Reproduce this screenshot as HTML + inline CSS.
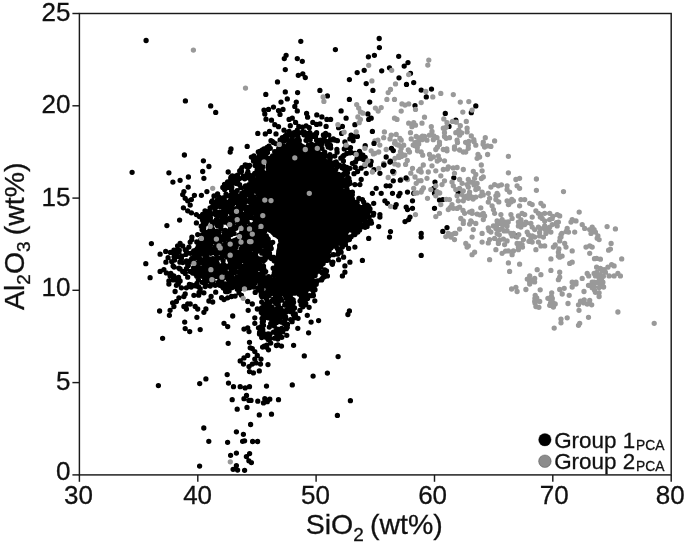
<!DOCTYPE html><html><head><meta charset="utf-8"><title>SiO2 vs Al2O3</title><style>html,body{margin:0;padding:0;background:#fff}</style></head><body><svg width="685" height="547" viewBox="0 0 685 547" style="display:block"><rect width="685" height="547" fill="#fff"/><polygon points="296,139 300,144 318,153 332,166 341,189 354,202 369.3,212.4 359.9,223.7 341.2,234.9 329.9,249.9 322.4,264.9 311,279 302,290 282,294 277,287 276.5,262 278,250 281,240 271,232 263,226 256,204 260,186 274,164" fill="#000" stroke="#000" stroke-width="3" stroke-linejoin="round"/><path d="M146.1 40.5h0M185.4 100.9h0M210.7 105.9h0M215.7 112.4h0M247.2 146.4h0M300.8 41.3h0M335.4 49.6h0M286.1 55.3h0M284.3 58.6h0M297.3 58.6h0M302.3 61.3h0M285.3 69.6h0M298.3 75.3h0M302.8 73.8h0M305.3 77.6h0M277.5 81.9h0M265.8 94.4h0M285.3 91.9h0M297.6 92.6h0M319.9 90.4h0M327.4 95.9h0M287.3 98.9h0M281 102.1h0M296.3 102.1h0M294.8 106.4h0M273.5 107.1h0M268.5 109.4h0M264 110.1h0M283 109.4h0M278.5 110.6h0M264.8 113.9h0M297.3 110.9h0M306.6 113.4h0M316.8 114.9h0M280 114.4h0M307.6 117.2h0M321.9 116.9h0M266 119.2h0M271.5 120.2h0M289.1 119.4h0M292.3 118.2h0M326.9 119.4h0M330.6 119.4h0M274.8 124.7h0M278.5 126.7h0M290.3 125.7h0M295.6 122.4h0M298.8 126.4h0M302.3 127.2h0M306.1 125.9h0M309.3 127.7h0M312.8 122.4h0M316.6 124.4h0M319.9 123.9h0M326.1 126.4h0M269.5 131.4h0M265.3 133.9h0M257.8 133.4h0M276 133.9h0M284 130.2h0M289.1 131.4h0M294.1 132.7h0M297.3 130.2h0M304.1 132.2h0M309.8 132.7h0M316.6 132.7h0M325.6 133.4h0M321.1 140.2h0M316.6 140.2h0M330.6 140.2h0M337.4 140.7h0M379.2 38.5h0M379.4 47.6h0M374.4 55.3h0M368.4 56.8h0M398.7 56.3h0M408 62.6h0M404.2 66.1h0M389.5 67.8h0M381.7 70.8h0M364.2 70.3h0M357.2 72.6h0M410.5 73.3h0M349.4 79.6h0M399 77.8h0M366.2 83.6h0M413.7 82.6h0M406.5 84.4h0M372.9 90.4h0M421.2 90.1h0M349.4 99.4h0M369.7 102.1h0M415 105.6h0M341.1 110.9h0M367.9 113.9h0M346.1 118.2h0M368.7 119.4h0M371.2 118.2h0M354.9 124.7h0M342.4 126.4h0M338.6 127.7h0M372.4 131.4h0M341.6 133.4h0M351.1 135.2h0M354.2 136.4h0M357.4 136.4h0M349.9 138.9h0M353.1 140.7h0M344.9 141.9h0M431.5 89.1h0M426.3 96.9h0M475.8 105.9h0M471.3 112.7h0M445.3 113.4h0M455.8 120.2h0M449 126.4h0M132.1 172.3h0M184.4 155h0M203.4 160.8h0M208.9 166.5h0M231 149h0M230.2 152h0M168.9 172.8h0M202.7 171.5h0M203.9 178.3h0M188.4 177h0M180.1 180.3h0M172.9 182.1h0M228.2 172h0M245.2 165h0M188.2 187.1h0M183.9 191.6h0M182.7 194.6h0M185.2 198.3h0M187.7 200.8h0M191.4 199.6h0M194.4 195.3h0M201.4 195.3h0M206.9 191.6h0M190.2 205.1h0M183.4 207.8h0M187.7 210.8h0M191.4 212.8h0M196.4 214.6h0M199.4 216.6h0M179.6 220.1h0M166.9 225.6h0M196.4 222.9h0M203.9 220.9h0M151.4 243.6h0M160.1 254.2h0M145.8 263.7h0M165.9 262.2h0M150.1 277.7h0M160.1 271.4h0M163.9 269.7h0M166.4 272.9h0M170.1 275.9h0M173.1 265.9h0M173.9 250.2h0M177.6 245.9h0M180.1 243.4h0M182.7 245.9h0M178.9 252.2h0M181.4 258.4h0M190.2 242.1h0M191.9 237.1h0M197.7 234.6h0M188.9 247.1h0M185.2 249.7h0M180.1 268.9h0M182.7 271.4h0M185.2 273.4h0M187.7 277.2h0M175.1 279.7h0M168.9 280.9h0M180.1 280.9h0M190.2 271.4h0M187.7 264.7h0M186.4 260.9h0M386.2 157h0M390 162h0M383.7 164.5h0M364.9 165.8h0M366.2 173.3h0M379.9 173.3h0M393.7 172h0M361.2 179.5h0M359.9 184.6h0M354.9 184.6h0M352.4 192.1h0M376.2 188.3h0M372.4 193.3h0M381.2 193.3h0M386.2 185.8h0M390 185.8h0M392.5 193.3h0M398.7 195.8h0M400 193.3h0M407.5 192.1h0M413.7 193.3h0M412.5 200.8h0M406.2 207.1h0M407.5 209.6h0M412.5 208.3h0M395 207.1h0M396.2 204.6h0M384.9 200.8h0M387.4 203.3h0M373.7 203.3h0M362.4 199.6h0M363.7 202.1h0M379.9 214.6h0M379.9 217.1h0M373.7 213.3h0M368.7 210.8h0M410 217.1h0M408.7 219.6h0M405 221.6h0M378.7 226.6h0M368.7 222.1h0M367.4 224.6h0M361.2 227.1h0M390.5 231.6h0M389.5 237.1h0M368.7 238.4h0M421.2 233.4h0M421.2 237.1h0M421.2 255.4h0M354.9 234.6h0M354.9 247.1h0M348.6 248.4h0M346.1 240.9h0M362.4 260.4h0M349.9 262.2h0M343.6 257.2h0M338.6 259.7h0M344.9 265.9h0M344.9 272.2h0M342.4 275.9h0M327.4 275.9h0M322.4 278.4h0M333.6 254.7h0M337.4 248.4h0M341.1 252.2h0M358.7 158.3h0M352.4 163.3h0M349.9 168.3h0M346.1 172h0M348.6 179.5h0M341.1 177h0M343.6 165.8h0M435 182.1h0M433.8 188.3h0M434.5 193.3h0M439.5 200.1h0M442.8 199.6h0M434.5 208.3h0M447 227.6h0M442.8 231.4h0M453.8 177.8h0M458.3 192.8h0M515.9 235.9h0M168.9 284h0M176.4 285.3h0M181.4 287.8h0M186.4 287.8h0M195.2 285.3h0M200.2 289h0M205.2 286.5h0M210.2 286h0M215.2 285.3h0M221.5 284h0M230.2 287.8h0M234 286.5h0M239 285.3h0M244 285.3h0M175.1 291.5h0M185.2 294h0M183.9 296.5h0M178.9 297.8h0M176.4 301.5h0M172.6 302.8h0M173.9 306.5h0M170.1 310.3h0M169.4 315.3h0M159.6 311h0M193.9 295.3h0M198.9 294h0M203.9 292.8h0M227.7 291.5h0M231.5 296.5h0M227.7 297.8h0M224 299.5h0M239 292.8h0M241.5 295.3h0M247.7 301.5h0M208.9 301h0M212.7 302h0M187.7 304h0M190.2 304h0M183.9 306.5h0M186.4 309h0M195.2 306.5h0M197.7 309h0M205.9 309h0M203.9 312.3h0M196.9 317.3h0M232.7 316h0M248.2 310.3h0M184.7 322.1h0M185.2 328.6h0M189.7 331.6h0M200.2 329.6h0M224 323.3h0M227.7 326.6h0M244 329.1h0M247.7 327.8h0M249 331.6h0M162.6 338.3h0M228.2 343.3h0M249.5 342.3h0M250.2 347.8h0M247.7 355.4h0M244 357.9h0M240.2 360.9h0M243.5 364.1h0M249 366.6h0M249.5 371.6h0M227.2 374.6h0M205.9 378.9h0M199.7 383.6h0M158.4 385.6h0M228.5 383.1h0M233.5 386.7h0M240.2 386.7h0M245.2 387.9h0M249.5 386.7h0M246.5 395.4h0M244 398.7h0M249 400.4h0M232.2 399.7h0M237.2 409.2h0M247 407.4h0M349.4 311h0M347.9 314.5h0M314.8 300.8h0M313.6 285.3h0M309.1 307.3h0M307.3 315.3h0M318.6 320.6h0M311.1 322.1h0M298.1 318.3h0M297.8 328.3h0M308.6 332.8h0M286.8 335.3h0M293.6 345.3h0M281.5 346.1h0M304.3 355.9h0M338.1 356.6h0M327.4 373.1h0M313.1 376.1h0M292.3 384.9h0M266.5 386.1h0M350.4 400.7h0M337.4 415.4h0M271.5 414.2h0M259.3 414.9h0M278.5 399.7h0M269.8 399.2h0M264.8 398.7h0M263.5 402.9h0M267.3 401.7h0M257.8 401.2h0M251 400.4h0M268 364.6h0M259.3 370.9h0M261 359.1h0M257.3 355.4h0M254.8 351.6h0M252.3 348.6h0M254.8 359.1h0M252.3 364.1h0M253.5 372.9h0M256 362.9h0M260.5 364.1h0M268.5 349.8h0M252.3 304h0M254.8 317.8h0M254.8 323.3h0M258.5 327.8h0M257.3 309h0M203.8 428h0M208.8 441.3h0M199.6 466.1h0M227.6 442.3h0M236.4 431.8h0M243.4 434.3h0M250.6 424.5h0M242.6 441.3h0M244.6 440.8h0M252.6 441.5h0M257.6 441.5h0M236.4 453.1h0M230.6 455.3h0M249.6 453.6h0M246.4 456.6h0M248.9 460.8h0M251.4 462.6h0M233.1 469.3h0M236.4 465.6h0M237.6 470.1h0M244.6 470.3h0M365.2 145.7h0M359.9 152.7h0M362.9 155.1h0M361.7 158.6h0M365.2 157.4h0M358.2 156.3h0M371.1 161.5h0M370.5 165h0M374 169.7h0M355.3 167.4h0M357.6 171.5h0M297.7 169h0M320.1 164.1h0M270.1 206.1h0M319.7 166h0M318.7 194h0M313.1 162h0M294.7 142.6h0M294.5 289h0M303 276.3h0M321.5 253.2h0M282.4 220.2h0M346.9 225h0M277.1 230.2h0M273 174.5h0M317.1 163.3h0M292.7 146.6h0M297.7 244.2h0M342.3 213.5h0M292.9 233.6h0M303.7 286.6h0M278.8 258.2h0M335.1 225.3h0M274.5 183.7h0M316.9 219.5h0M312.2 167.7h0M266.9 217.3h0M302 261.5h0M283.6 275.2h0M259.1 190.2h0M300.7 166.6h0M333 219.3h0M284.2 203.1h0M334.4 189.4h0M263.7 210.4h0M278.1 235.3h0M278.9 159.9h0M289.1 222.4h0M334.6 243h0M304.4 195.4h0M314.5 228h0M298.1 248.8h0M333.7 201.3h0M306.9 180h0M339.5 213.5h0M295.1 281.8h0M332.6 236h0M324.3 168.1h0M301 167.2h0M295.6 278.7h0M264.6 185.6h0M268.9 218.7h0M292.2 145.3h0M279.4 227.3h0M296.7 290.5h0M288.2 271.7h0M266.4 220.8h0M318.3 240.9h0M302.5 220.2h0M316.2 230.2h0M296.1 265.5h0M291.5 263.1h0M270.2 226.6h0M291 172.6h0M266.9 216.4h0M281.2 254.5h0M274.4 230.2h0M283.4 293h0M358 224.8h0M278.1 260.6h0M343 225.9h0M269.9 180.1h0M282.7 291h0M281.5 196.4h0M334.1 241.8h0M319.7 239.9h0M297.7 201h0M333.6 204.3h0M268.6 177.6h0M290.4 226.8h0M320.6 237.6h0M314.5 250.7h0M278.8 236h0M259.2 200.6h0M280.4 226h0M284.4 153.3h0M319.8 261.3h0M290.7 183.3h0M279.8 200h0M333.3 201.2h0M347.8 227.5h0M316.9 241h0M303.8 248h0M286.2 187.8h0M302.8 199.8h0M266.5 199.4h0M282 235.2h0M299.9 187.4h0M327.1 188h0M324 210h0M295.3 199.8h0M298.4 245.9h0M313.6 215.2h0M322.6 240.1h0M269.7 206.9h0M328.7 175.5h0M332.2 216.6h0M272 169.5h0M286.4 271.2h0M298.8 228.8h0M332.2 219.1h0M311.7 155.2h0M296.1 283.6h0M294.8 171.8h0M278.2 190.4h0M309.5 224.6h0M319.2 159.5h0M333.5 225.1h0M285 247.9h0M314.6 196.1h0M301.4 170.4h0M328.5 165.3h0M331 229.9h0M346.3 202.9h0M306.9 157.8h0M285.2 159.5h0M315 263.9h0M304.4 182.2h0M331.2 225.5h0M345.6 230.3h0M285.8 196.9h0M291.1 184.2h0M325.5 208.9h0M311 155.3h0M309.8 230.1h0M295.7 217.6h0M324.9 173.8h0M306.3 149.8h0M299.5 163.2h0M293.2 211.8h0M330.7 237.2h0M315.3 271.2h0M302.5 161.3h0M333.6 194.4h0M364.7 213.1h0M301.6 189.1h0M319.2 239.6h0M283.2 180.6h0M299.2 278.4h0M277.3 202.2h0M303.7 190.3h0M300.2 181.3h0M302.2 167.6h0M308.3 223.5h0M314.7 206.3h0M302.7 268.3h0M302.8 223.8h0M285.9 189.1h0M311.4 252.4h0M286.5 188.6h0M334.3 221.4h0M334.4 191.5h0M338.9 228h0M304.4 245.3h0M283.5 193.7h0M292.2 265.9h0M258.8 193.7h0M333.3 206.9h0M331.5 242.2h0M272.2 229.7h0M327.1 169.3h0M278.7 273.9h0M292 191.9h0M322 174.9h0M308.9 160.1h0M325.6 188.9h0M293.2 206.4h0M330 193.1h0M299.7 205.1h0M306.4 157.1h0M328.7 225.2h0M294.6 260h0M313.4 226.8h0M286.1 214.5h0M297.4 248.9h0M323.3 258.1h0M314.7 226.2h0M266.4 188.7h0M323.1 263.5h0M292.8 267.9h0M322.6 225h0M271.5 204.2h0M358.5 211.7h0M296.6 173.9h0M304.7 281.6h0M302.9 288h0M317.4 238.3h0M291.5 178.9h0M268.3 178.6h0M290.9 281.3h0M320.2 204.2h0M313.5 246.7h0M330.1 232.2h0M330.1 201h0M293.2 209.6h0M290.8 169.7h0M298.5 268.2h0M286.3 284h0M256.7 204.4h0M264 226.6h0M266.7 200.4h0M288 154.9h0M298.5 206.5h0M321.5 192.5h0M263.8 190h0M316.5 153.2h0M318 261.9h0M337.3 233h0M283 180.9h0M333.9 200h0M299.7 216.8h0M284 239h0M299.4 279.6h0M308.6 179.7h0M309.3 266.2h0M279.5 158.1h0M306.3 187.2h0M283.7 272.6h0M287.4 181.2h0M328.8 179.5h0M265.9 179.1h0M316.4 188.8h0M288.7 190.9h0M323 165.2h0M341.5 194.8h0M284.2 229.6h0M306.2 237.4h0M296.7 248.9h0M310.9 163.8h0M290.4 168.8h0M289.7 185.9h0M270.3 207.2h0M339.9 218.8h0M294.9 275.2h0M323.8 189.1h0M335.5 184.8h0M271 186.6h0M308.4 270.3h0M309.7 159h0M301.9 199h0M256.9 203h0M305.6 203.4h0M291.4 204.8h0M314 180.3h0M325.1 223.4h0M327.7 241.6h0M345.1 216.5h0M285.9 171.6h0M288.4 226.3h0M318.5 161.4h0M314 225h0M317.3 166.1h0M287.1 201.3h0M284.7 179.5h0M291 216.4h0M306 243.1h0M316.2 252.5h0M278 278.9h0M323.1 233.8h0M322.4 207.6h0M310.5 151.7h0M323.4 168.5h0M333.6 201.8h0M330.5 179.6h0M345.6 203.7h0M291.6 266.1h0M314 226.3h0M280.9 195.5h0M272.8 200h0M311.8 194.1h0M295.2 286.6h0M297.1 151.7h0M295.8 161.8h0M319.5 203.1h0M271.6 196.7h0M345.3 223.2h0M268.2 206h0M328.8 202.8h0M287.3 265.2h0M324.8 252.9h0M339.3 226.3h0M299.6 268.8h0M290.4 171.8h0M306.9 223.5h0M303.2 224h0M298 230h0M272.9 170.3h0M282.2 258.3h0M281.3 226h0M282.9 276.6h0M289.6 194.5h0M277.7 172.6h0M343.2 207.5h0M291 195.5h0M292.2 180.4h0M286.5 260.5h0M267.9 190.6h0M347.4 197.1h0M275.3 182.7h0M304.7 217.3h0M278.7 220h0M284.7 284.6h0M319.9 252.2h0M265.6 195.1h0M291.8 198.6h0M307.6 223.4h0M276.9 182.6h0M297.7 269.1h0M280.9 206.1h0M300.6 218.8h0M293.4 290.8h0M321.7 209.1h0M289.4 250.1h0M312.8 191.5h0M333.8 224.8h0M300.3 248.2h0M286.2 209h0M311.1 194.9h0M319.5 261.1h0M354.8 203h0M288.1 258h0M335.7 181.5h0M306.2 177.3h0M315.3 171.3h0M264 180h0M265.9 185.4h0M293.2 187.2h0M285.6 279.3h0M309.2 152h0M287.1 287.9h0M306.1 190.7h0M282 177.4h0M343.4 230.6h0M353.5 213.3h0M264.5 193.7h0M288.7 209.9h0M317.8 200.6h0M308.4 213.6h0M268.7 175.3h0M355.6 207.7h0M348.2 205h0M321.1 170.3h0M310.1 265.9h0M291.7 224.5h0M286.7 249.8h0M291.8 219.4h0M283.2 158.6h0M268.7 195.8h0M263.1 223h0M291.9 145.1h0M308.8 265.6h0M277.4 211h0M287 259.4h0M302.6 190.4h0M277.8 190.1h0M351.1 228h0M351.6 227.5h0M332.7 225h0M280 215h0M295 174.5h0M291.8 281.6h0M317.7 181.7h0M297.4 185h0M345.2 219.6h0M311 253h0M318.3 266.3h0M306.6 269.8h0M285.2 290.1h0M333.5 183.8h0M305.1 286h0M282.9 223.2h0M305.8 165.4h0M334.8 186.1h0M307.3 188.4h0M330.4 187.6h0M301.1 265.8h0M339.9 187.6h0M304.1 273.5h0M285 234.2h0M288.2 214.4h0M316.4 199.9h0M270 183h0M309.1 201.2h0M322.1 241.5h0M292.9 277.5h0M333.7 186.7h0M298.2 190h0M320.4 193.8h0M264.6 183.3h0M286 251.7h0M301.3 204.7h0M330.4 241.2h0M281.8 256.8h0M290.4 226.4h0M325.3 211.2h0M301.4 199.4h0M334.1 188.7h0M307.3 221.1h0M267.8 207.1h0M290.4 287.6h0M305.5 201h0M287.4 283.5h0M263.3 214.9h0M278.4 225h0M301.5 275.6h0M264.2 211.1h0M288.7 155.9h0M295.9 221.5h0M306.7 148.3h0M293.4 144.3h0M352.1 228h0M305.7 260.1h0M314.9 245.4h0M351.9 212.7h0M327.3 183.8h0M338.7 228.7h0M277.8 261.9h0M307.1 159.3h0M365 215.8h0M275 170.2h0M284.8 282.7h0M335.4 189.9h0M305.6 254.2h0M289.2 184.3h0M320.7 250.3h0M275.9 211.1h0M316 252.2h0M314.8 175.7h0M367.7 213.9h0M297.4 286.4h0M313.1 185.4h0M282.5 199.6h0M269.4 182.5h0M327.8 243.5h0M328.4 166h0M308.7 178.2h0M292.6 190.5h0M300.8 260.2h0M360.8 209.5h0M312.1 209.2h0M313.2 200.4h0M313.1 210.9h0M327.1 247.1h0M347.6 206.2h0M320.8 176.3h0M319.1 239.9h0M319.8 169.3h0M303.6 228.6h0M296.1 242.7h0M299.5 211.9h0M278.9 221.5h0M280.5 173.2h0M304.6 237.7h0M314.3 174.3h0M320.6 247.9h0M280.1 157.7h0M319.6 214.7h0M314 187.7h0M312.4 270.8h0M274.9 185.5h0M343.2 204.4h0M313.3 205.3h0M311.9 266.6h0M309.6 279.6h0M306.3 186h0M310.2 241.5h0M282.6 254.5h0M298.3 148.3h0M278.4 278.6h0M322.5 246.3h0M316.4 202.8h0M267.1 209.6h0M321.9 177.2h0M333.8 208.9h0M292.2 153.4h0M309.1 202h0M289.1 178h0M311.2 275.6h0M323.4 236.7h0M337.8 235.9h0M321.8 183.6h0M283 219h0M313.5 190.9h0M324.8 247.7h0M265.5 177.4h0M274.9 222.4h0M297.2 162.9h0M302 221.2h0M287 292.2h0M297.7 239.4h0M300.8 208.6h0M295.3 188.2h0M290.1 174.2h0M304.8 190.6h0M302.6 220.5h0M305.9 166.2h0M270.2 184.4h0M288.1 199h0M287 237.7h0M339.4 211.1h0M263.1 182.5h0M293.5 276h0M263.8 202.7h0M317.6 208.6h0M333.4 183.3h0M309.4 273.4h0M281.4 222.4h0M291.1 211.9h0M262.8 185.7h0M330.6 225.4h0M335.2 202.1h0M295.8 145.5h0M294.4 164h0M270.3 211.6h0M297.2 265.9h0M308.9 239.3h0M322.5 207.4h0M271.2 223.1h0M315.7 192.6h0M313.7 197.7h0M313.7 253.3h0M290.2 266.9h0M330.9 247.9h0M272.5 209.5h0M283.1 178.4h0M329.4 202.6h0M304 239.7h0M279.2 215.8h0M260.8 204.8h0M300.6 237.5h0M287.9 181.9h0M323.5 160.2h0M332.1 240.8h0M301.3 225h0M316.8 269.5h0M312.5 154.6h0M280.3 159.9h0M314 170.2h0M354.7 221.5h0M306.8 242.3h0M302 226.4h0M263.1 224.1h0M319.5 172.7h0M276.4 206.8h0M336.3 189.9h0M293.3 282.5h0M286.2 231.7h0M337.8 182.7h0M315.8 228.5h0M260.9 188.3h0M257 204.4h0M335.9 199.3h0M319.8 164.3h0M279.3 190.5h0M284.9 249.5h0M312.7 258.1h0M297.5 202h0M325.9 186.7h0M306.7 277h0M263.7 188h0M323.5 229.1h0M292.1 198.5h0M284.2 170.4h0M313.1 239.1h0M335.8 211h0M275.5 223.3h0M302.1 241.9h0M295.8 239.7h0M303.3 164.4h0M265.1 205.7h0M294.7 263.4h0M262.1 192.7h0M324.3 227.4h0M326.2 228.4h0M313.3 150.7h0M342.6 224h0M317 180.6h0M303.6 282.8h0M282 159.5h0M301.7 181h0M285.8 269h0M275.3 228.4h0M274.2 199.9h0M259.5 213.4h0M329.2 237.2h0M311.1 167.3h0M320.2 212.5h0M299.5 252.5h0M320.3 193.7h0M329 175.3h0M280.1 176.1h0M309.9 166.8h0M294.7 178.7h0M271.4 171h0M286.9 187.7h0M319.3 264.4h0M283.3 237h0M285.9 277.7h0M312.7 195.8h0M360.5 218.6h0M299.4 168h0M268.4 187.5h0M310.6 193.8h0M288.6 160.3h0M288.6 187h0M313 168.5h0M315.4 216.2h0M271.9 228.7h0M317.4 177.3h0M278 259.6h0M279.9 182.3h0M334.9 198.4h0M300.7 280.8h0M319.3 197.6h0M322.8 202.4h0M287.6 259.9h0M314.5 161.1h0M337.6 229.3h0M300 181.1h0M304.6 204.8h0M288.2 166.4h0M309.3 190.9h0M286.4 288.9h0M356.2 217.4h0M357.9 211.6h0M333.8 180.1h0M298.1 234.2h0M343.2 215.7h0M316.6 202.4h0M333.7 202.2h0M347.8 224.7h0M323.2 234.3h0M312.9 221.6h0M291.4 174.4h0M306.1 164h0M330.2 166.3h0M289.9 170.1h0M332.8 217.1h0M276.3 179.5h0M319.1 177.9h0M314.1 211.1h0M324.6 212.4h0M346.4 224.3h0M309.6 192.1h0M315.6 246.7h0M285 252.9h0M286.5 277.4h0M359.5 214.3h0M312.5 270.1h0M315.4 235.4h0M301.2 281.3h0M335.2 214.8h0M309 271.4h0M300.8 256.1h0M314.2 213.7h0M292 165.2h0M296.4 201h0M304.8 286.4h0M316.1 153.6h0M297.6 193.7h0M318.6 248h0M287.4 237.9h0M279.4 280.7h0M305.2 181.9h0M304.4 263.3h0M317 267.3h0M323.1 158.8h0M287 228h0M327.2 232.7h0M294.2 224.1h0M275.1 227.6h0M353.7 212.7h0M280.3 173.5h0M348.8 203.2h0M292.2 151.4h0M319.1 221.4h0M303.5 162.6h0M322.2 199.1h0M334.8 186.1h0M296.8 239.8h0M273 175.7h0M319.2 242h0M269.8 202.6h0M307.3 201.9h0M335.1 177.2h0M316.7 267.3h0M292 173.3h0M276.9 211h0M324.9 178.4h0M309.4 195.8h0M300.9 154.5h0M292.6 168.5h0M287.8 205.9h0M325.5 180.2h0M344.3 198.9h0M289.4 206.6h0M305.5 234.9h0M306.7 199.3h0M357.7 217.9h0M273.2 199.1h0M300.9 183.3h0M334.1 216.3h0M310.9 171.9h0M295 275.9h0M303.4 200.1h0M281 258.6h0M274.3 172.2h0M287.2 205.1h0M322 255.1h0M310.6 243.6h0M310.4 171.5h0M314.9 270.6h0M291.6 281.7h0M288.2 175.8h0M285.5 241.7h0M262 202.9h0M304.9 225.3h0M291.8 263h0M306.7 274.7h0M278.3 168h0M299.4 202h0M301.4 193.1h0M299.1 220.3h0M310.7 227.1h0M319.6 168.7h0M320.6 229.2h0M332.6 208.8h0M271.6 193.4h0M287.2 168h0M286.9 186.1h0M312.2 202.1h0M303.5 152.1h0M322.1 197.7h0M323.7 222.6h0M298.9 251.9h0M285 195.5h0M278.7 190.8h0M314.9 163.7h0M339.8 235.2h0M297.3 190.2h0M277.2 169h0M320.8 223.3h0M338.7 228.8h0M282.7 207.4h0M323 228.6h0M357.9 211.6h0M354.6 207.3h0M306.4 215.6h0M282 270.4h0M361 211.4h0M299.5 259.2h0M279.5 200.3h0M275.6 186.7h0M292.9 153.8h0M278.2 215.3h0M290.7 283.1h0M273.2 195.5h0M311.9 214.5h0M314 272.5h0M329.1 251.3h0M315.9 156.6h0M285 272.4h0M281.5 260.5h0M313.7 274.5h0M297 162.2h0M288.6 168.8h0M317.8 224.6h0M319.9 247.1h0M306.5 216.8h0M308.7 164.3h0M306 165.8h0M304.7 227.6h0M301.7 229.8h0M305.7 230.5h0M296.8 200.1h0M272 182.4h0M277.5 266.7h0M263.3 212.9h0M330 173.3h0M329.3 232.3h0M317.8 195.3h0M282.1 292.1h0M315.3 248.6h0M312 277.1h0M274.7 214.2h0M272.3 214.8h0M328.8 175.4h0M293.2 268.2h0M274.5 187.4h0M292.4 232.2h0M305.2 272.4h0M352.6 220.5h0M287.2 188.2h0M287.7 260.9h0M285.2 175.9h0M262.2 199.9h0M347.7 203.6h0M291.5 220h0M282.1 166.7h0M331.8 226.8h0M295.1 264h0M295 207.8h0M330.4 232.3h0M273.7 186.4h0M300.8 164.7h0M313.9 202.3h0M302.3 247.6h0M335.6 201h0M267.7 189.2h0M290.1 166.8h0M307.4 180.5h0M322.4 248.6h0M294 253.4h0M279.3 263.6h0M325.5 238.8h0M291.8 160.3h0M287.1 202.2h0M258.4 209.1h0M334.8 173.3h0M270.5 216.9h0M280.2 227.4h0M304.5 180h0M281.1 246.6h0M260.7 198.5h0M323.5 178.6h0M341.5 226.9h0M280 273.2h0M329.1 177.6h0M295.6 242.6h0M328.5 206h0M336 236.5h0M294.1 217.5h0M304.3 161.3h0M287.9 254.2h0M284.9 267.6h0M294 164.1h0M290.4 283.8h0M318.6 214.5h0M319.7 156h0M320.1 249.4h0M361.1 215.4h0M285.9 233.8h0M300.7 146.9h0M308.7 194.9h0M294 209h0M323.7 161.4h0M293.2 243.4h0M294.8 214.2h0M343.4 230.6h0M281.4 246.8h0M318.1 213.2h0M319 164.4h0M274.9 234.6h0M316.3 170.5h0M310.2 249.2h0M260.7 189.1h0M304.3 177.6h0M299.1 210h0M280.3 276.9h0M326.1 168.2h0M263.6 184.2h0M342.3 218.7h0M296.7 162.8h0M325.4 180.3h0M308.1 176.7h0M311.2 210.7h0M331.5 170h0M322.7 177.3h0M301.3 173.8h0M349.3 218.8h0M259.5 202.7h0M299.1 268.3h0M350 213.9h0M323.1 250h0M302.2 258.4h0M301 174.2h0M306.7 199.7h0M297.3 259.9h0M309.9 236.8h0M279.4 186.7h0M308.9 232.4h0M304.3 259.8h0M297.3 175.7h0M290.3 212.6h0M280.7 288.3h0M314.5 273.9h0M332.4 233.5h0M351.7 204.2h0M304 263.1h0M305.2 169.5h0M316.6 157.4h0M265.3 194.1h0M283.9 239.9h0M314.1 225.4h0M320.8 252h0M282.4 254.1h0M291.8 227.2h0M262.6 220h0M294.2 141.6h0M295 191.8h0M326.4 214.2h0M333.9 194.3h0M336.8 238.3h0M311.6 150.3h0M292.1 216.9h0M301.6 255.5h0M298.1 190.6h0M340.4 216.7h0M351.2 206.8h0M273 199.4h0M318.2 249.8h0M298.7 289.6h0M272.5 200.2h0M278.9 164.4h0M283.2 286.7h0M293.6 285.7h0M299 145.5h0M322 224.3h0M294.9 200h0M318.5 162.6h0M298.7 169.8h0M297.4 254.9h0M295.3 263.3h0M315 266.3h0M287.4 156.2h0M290.9 225.5h0M294.5 203.4h0M324.2 166.6h0M318.7 205.5h0M300.8 201.3h0M328.1 215.9h0M312.7 238.1h0M321.6 242.9h0M284.3 256.5h0M306.5 178.3h0M291.1 250.1h0M315.9 248h0M313 267.1h0M322.9 228.1h0M316.1 265.6h0M296.6 204.3h0M288.1 189.2h0M309.7 267.3h0M263.1 199.4h0M339.3 207.1h0M305.4 223.7h0M293.9 270.3h0M305 254.2h0M304.2 198.1h0M290.9 170.4h0M327.5 163.5h0M291.9 216.8h0M336.9 197.6h0M265.1 188.2h0M293.1 199h0M285.9 175.7h0M280.3 166.7h0M337.5 226.5h0M275.2 204.8h0M300.4 214.2h0M348.8 216.4h0M311.7 212.9h0M308.1 228.2h0M301.9 267.6h0M314.5 223.6h0M306 263.2h0M314.9 192.1h0M319 258.2h0M335.5 189.7h0M305.4 204.2h0M308.3 192h0M303.5 175h0M320.2 193.7h0M328.8 171.5h0M321.4 228.7h0M355.5 220.9h0M312.1 208.4h0M263.7 204.9h0M311.2 212.6h0M316.1 187.2h0M294.1 206.6h0M274.9 184.8h0M324.1 246.3h0M324.4 179.9h0M332.9 213.4h0M308.5 281.2h0M286.6 271.4h0M295.9 187.2h0M334.3 226.7h0M311.1 156.2h0M333.8 185.1h0M326.2 195.3h0M310.2 277.7h0M282.7 258.7h0M320.5 260h0M335.2 220.6h0M284.7 227.2h0M282 193.3h0M323.4 170.5h0M309 167.9h0M340.1 211.4h0M283.1 240.6h0M316.5 199.5h0M272.2 179h0M283.9 243.4h0M327.5 182.5h0M315.2 265.8h0M262.1 204.9h0M296.2 257.5h0M300 277.4h0M341.7 222.2h0M294.3 254.4h0M304.5 204.5h0M291.1 197h0M292.2 181.1h0M361.9 211.3h0M342.4 205.6h0M330.2 166.4h0M317.3 267.2h0M338.6 219.2h0M317.8 177.7h0M284.2 237.2h0M281.3 238.9h0M333.9 243.2h0M304 265.5h0M288.2 268.9h0M316.2 173.8h0M291.7 229.5h0M305.5 216.3h0M269.6 229.7h0M296.9 222.5h0M332.7 185.8h0M293.3 188h0M304.6 150.9h0M303.2 233.1h0M318.4 224.2h0M289 274.4h0M259.3 210.5h0M301.4 278.6h0M318.4 172.8h0M278.1 268.2h0M281.4 192.7h0M340.6 227.8h0M299.8 169.1h0M260.3 204.8h0M267.1 200.3h0M301.7 218h0M340.7 233.3h0M316.3 272.3h0M307.3 157h0M289 269h0M298.1 260.1h0M301.7 169.7h0M300.6 192.4h0M287.2 177.1h0M260.1 199.2h0M301 276.3h0M336.9 222.7h0M311.2 235h0M293.2 218.6h0M283 165.3h0M324.3 237.4h0M321 178.1h0M303.4 247.4h0M307.1 150.3h0M330.9 169h0M315.9 256.4h0M320.7 160.5h0M309.4 152.2h0M292.6 284.5h0M280.2 248h0M290.1 172.1h0M280.4 228.5h0M341.1 190.8h0M310.1 235.5h0M317.7 256.5h0M297.4 168.4h0M329.9 232h0M263.2 223.6h0M270.2 184.5h0M302.3 257.3h0M338.6 220.3h0M343.7 201.2h0M293.3 208.9h0M310.4 198.3h0M304 185.3h0M284.4 274.5h0M265.5 214.5h0M281.6 166.5h0M278.4 168.3h0M299.9 272.4h0M290.4 191.5h0M284.8 193.3h0M343.4 216h0M257.4 205.7h0M306.4 246.1h0M283.9 186.2h0M277.5 259.1h0M318.3 243.1h0M300.5 248.6h0M332.7 242.3h0M281.6 163.3h0M313.5 169.7h0M334.6 177.1h0M330.8 203h0M329.2 212.7h0M276 204.7h0M310.8 272.2h0M286.6 229.7h0M283.3 276.2h0M322.5 178.6h0M298.7 207.9h0M298.5 151h0M314.2 198.3h0M281.7 275.2h0M347.9 196.5h0M283.9 283h0M302.8 235h0M300.3 274.2h0M323.3 161.1h0M317.6 251.3h0M285.6 259.1h0M322 212.4h0M321.7 211h0M318.4 209.1h0M283.1 192.1h0M317.7 172.4h0M279.4 178.9h0M310.6 232.8h0M300.9 230.5h0M270.3 179.7h0M272.6 197.7h0M300.7 222.9h0M304.3 245.2h0M270.9 187.6h0M263.2 208.1h0M277.5 233h0M363.4 211.2h0M320.6 237.3h0M271.1 189.4h0M323 217.2h0M331.7 190.5h0M321.4 211h0M338.6 231.5h0M288.3 219.1h0M285.1 241.5h0M297.8 145.7h0M311.7 158h0M309.3 167.3h0M325 209.5h0M320 217.5h0M297.4 223.2h0M289.7 288.2h0M313.1 233.9h0M257.7 206.7h0M289.8 174.7h0M292.8 179.8h0M261 203h0M266.4 206.2h0M319.4 251.1h0M335.1 207.7h0M341.3 215.9h0M313 152.6h0M298.4 171.9h0M285 217.9h0M272.7 219.1h0M321.5 196.1h0M290.3 255h0M332.3 241.1h0M330.8 237.4h0M305.2 279.7h0M304.1 220h0M312.9 205h0M326 225.1h0M329.4 235.7h0M330.4 227.4h0M300.5 201.9h0M273.4 169.4h0M319.5 202.6h0M290.8 191.3h0M284.7 183.4h0M270.2 201.8h0M266.3 185.1h0M317.7 269.5h0M274.4 175.9h0M272.7 188.2h0M311.1 225.6h0M295.8 246.1h0M298.5 188.2h0M318.4 169.9h0M295.1 291.3h0M326.8 183.6h0M313.3 246.6h0M273.5 165.3h0M281.3 250.2h0M294.9 216.2h0M335.2 239.4h0M277.3 264.5h0M316.8 256.3h0M274 165.9h0M336.2 236.6h0M291.3 233.8h0M307.3 240.9h0M313.8 208h0M277.3 165.3h0M317.3 202.7h0M314.4 253.1h0M274.8 180.2h0M296.1 278.8h0M313.7 227.3h0M324.6 251.9h0M336.9 203.8h0M314.2 255.9h0M267.3 225.1h0M285 195.5h0M325.1 224.7h0M268.5 172.8h0M275.6 183.4h0M309.3 174.3h0M280 167.4h0M280.9 205.3h0M305.1 234.7h0M279.2 281.4h0M311.7 230.3h0M332.4 238.3h0M321.7 234.3h0M285.2 251.7h0M340.9 232.7h0M295.4 194.6h0M271.7 173.5h0M303.6 184.9h0M310.6 174.5h0M330.3 184.8h0M290.8 237.6h0M337.8 203h0M282.4 261.2h0M302.7 162.2h0M342 198.7h0M317 184.2h0M304.8 203.2h0M276.2 195.9h0M341.9 191.6h0M292.1 156.4h0M299.3 153.9h0M346.2 200.6h0M362.4 216.5h0M310.5 213.9h0M356.7 218.5h0M302.1 184.7h0M312.9 231.5h0M306 278.6h0M259.4 207.4h0M266.1 195.8h0M294 236.7h0M320.9 266.6h0M283.1 263.2h0M318.7 266.3h0M275.8 194.4h0M313.3 204.8h0M329.8 164.2h0M307.3 194.5h0M305.6 251.6h0M285.3 155.2h0M275.4 181.7h0M362.7 211.4h0M322.5 263.8h0M328.7 243.7h0M310.1 201.2h0M305.6 178.3h0M265.2 219.1h0M289.3 273.1h0M273.1 223.7h0M296.3 143.4h0M267 227.3h0M277.9 265.5h0M328.9 245.4h0M316.9 176.7h0M265.5 190.1h0M341.9 204h0M332.7 179.2h0M326.1 171.1h0M302.3 185.4h0M330.7 168.1h0M302.8 194.4h0M278.7 255.2h0M277.7 216.5h0M290.5 174.1h0M327.1 230.5h0M296.9 260.9h0M289.8 153.1h0M282.9 180.2h0M281.4 244.9h0M298.3 285.8h0M318.6 164.7h0M276.1 196.1h0M348.1 214.3h0M297.1 159.7h0M303.7 197.2h0M346.4 228.9h0M258.5 200h0M322.4 178.7h0M289.6 264.7h0M284.1 167.2h0M290.6 169h0M281.9 271.7h0M352.9 201h0M301.1 275.5h0M287.3 245h0M284.3 223.6h0M320.8 213.6h0M333.6 183.4h0M290.6 146.7h0M320.3 169.7h0M272.4 222h0M299 188.7h0M284.3 206.2h0M314 189.6h0M278.6 164.2h0M322.8 215.4h0M289.4 284.3h0M304.7 229.9h0M276.8 270.9h0M285.4 254.3h0M307.1 189.1h0M265.1 183.3h0M282.5 285.4h0M328.3 172.2h0M302.7 158.2h0M302 193.1h0M302.6 251.7h0M286.3 196.4h0M333.4 198.8h0M260.4 215.3h0M281.2 281.9h0M284.4 197h0M304.2 240.4h0M291.2 151.6h0M280.9 194.3h0M279.8 220.9h0M301.2 179.2h0M294.5 144h0M296.5 277.4h0M328.1 204.8h0M319.6 163.9h0M278.8 284.6h0M284.2 237.1h0M315.3 163.9h0M260.4 207.6h0M323.6 225.8h0M322.9 242.4h0M288.3 257h0M307.5 172.9h0M318.6 226.6h0M310.6 156.6h0M326.1 181.4h0M263.1 192.3h0M257.3 205h0M286.6 268.6h0M273.2 174.7h0M281.1 242.5h0M305.1 279.1h0M348.3 213.2h0M309.7 217.5h0M304.9 163.7h0M299 267.1h0M320.9 222.4h0M314.7 200.6h0M325.3 216.6h0M333.6 183.4h0M325.8 190.7h0M285.9 189.1h0M283.7 183.4h0M298.2 271.9h0M308 227.4h0M344.5 229.8h0M278.6 273.9h0M313.5 238.7h0M326.9 211.6h0M329 212.6h0M257.5 205.4h0M292.4 259.8h0M292.2 193.2h0M293.7 176h0M278.7 254.6h0M313.4 189.1h0M295.7 214.5h0M278.6 204.7h0M363.2 219.6h0M314.7 214.1h0M303 233.9h0M285.8 274.3h0M348.8 212.6h0M291.9 228.3h0M355.2 218.6h0M265.9 195.8h0M298.3 269.6h0M326.1 243.9h0M284.1 251.4h0M277.3 187.7h0M314.7 193.9h0M301.3 278.3h0M318 193.8h0M311.9 245.2h0M308.2 153h0M295.3 255.6h0M284.5 174.6h0M321.4 167.2h0M325.8 183h0M326.1 212.7h0M271.3 190.8h0M325.8 161.7h0M302 222.4h0M302.7 157.9h0M283.9 232.4h0M340.6 206.3h0M334.9 237.2h0M337.6 220.4h0M293.8 210h0M289.1 263.1h0M295.6 169.1h0M316.3 186.9h0M280.7 245.7h0M323.8 196h0M324.8 204.5h0M311.4 154.5h0M290.8 244.9h0M302.8 214.9h0M284.7 183.8h0M278.7 266.6h0M304.9 172.7h0M354.3 223h0M318.2 252.5h0M294.4 145h0M314.6 156.2h0M288.3 187.1h0M309.9 248.9h0M296.1 281.9h0M290.1 230.6h0M320.4 180.6h0M288.4 287.4h0M338.2 227.3h0M292.4 155.2h0M285.2 275.9h0M292.4 175.8h0M327.1 206.7h0M352.8 201.9h0M349.6 206.8h0M310.8 237.9h0M286.2 230.6h0M283.6 219.7h0M323.9 208.4h0M272.4 192.8h0M284.4 173.4h0M297.7 177.5h0M293.1 269.9h0M324.1 213.1h0M316.5 233.9h0M277.2 191.2h0M318.5 269.2h0M330.8 173h0M352 204.3h0M286.1 228.5h0M301.9 170.7h0M282.5 202.8h0M280.9 162h0M307.9 212.5h0M301.8 289.2h0M321 159.4h0M333.8 176.8h0M318.4 162h0M333.1 172.5h0M319.5 156.1h0M279.6 207.6h0M336.7 211.9h0M357 225.3h0M285.3 170.8h0M312.1 200.2h0M278.3 286.8h0M278 191.3h0M283.7 156.9h0M293.9 247.3h0M313.1 223h0M308.7 237.6h0M319.6 162.1h0M267.3 190.5h0M315.3 272.3h0M291.8 177.2h0M327.7 238.1h0M318.4 177.1h0M308.2 225.2h0M289.3 199.3h0M311.8 233.4h0M312.7 209.9h0M263.3 195.2h0M301.1 165.4h0M275.7 212.2h0M264.7 192.3h0M278.9 161.4h0M319 206.4h0M291.6 215.6h0M265 203.6h0M286.5 230.3h0M310.8 180h0M325.4 165h0M259.9 189.1h0M314.3 169.6h0M327.5 179.7h0M299 240h0M282.3 214.9h0M306.7 177.4h0M293.9 171h0M266.5 217.7h0M355.7 206.4h0M260.9 213.6h0M310.9 263.7h0M327.6 254.5h0M321.5 218.9h0M286.4 228.7h0M313.5 243.1h0M287.6 206.8h0M282.9 256.1h0M287.9 228h0M307.5 248.8h0M293.4 230.3h0M367.8 213.4h0M316.8 185.1h0M285.5 266.2h0M294.6 191.5h0M331.8 218.8h0M288.8 230.2h0M319.7 177.7h0M296.6 193.8h0M304.9 210.4h0M293.9 169.4h0M282.2 216.2h0M292.3 176.3h0M258.6 201h0M264.8 212.4h0M306.9 254h0M318.3 239.5h0M303.9 284.7h0M330.6 188.9h0M265.3 206.9h0M339.7 220.9h0M321.7 229.5h0M331.5 188.9h0M279 205.7h0M321.1 161.7h0M266.5 189.9h0M344.1 223.4h0M302.8 238.5h0M326.1 233.1h0M276.8 234.5h0M323.9 248.6h0M271.8 190.9h0M321.7 173.5h0M331.1 226.1h0M270.4 223.4h0M306.1 158.3h0M333.6 171.8h0M316.3 154.7h0M334.4 237.7h0M293.4 151.9h0M332.2 185.3h0M289.4 255.7h0M327.7 248.7h0M292.7 188.8h0M318.2 161.8h0M327.1 171.1h0M278.5 182.9h0M268.3 207.1h0M283.6 182.8h0M296 258.5h0M258.9 206.9h0M299.5 181.8h0M273.7 173.7h0M262.2 183.9h0M337 194.9h0M302.5 169.9h0M306.8 213.4h0M262.5 209.9h0M332.5 191.7h0M307.1 243.4h0M311 180.7h0M273.2 188.3h0M298.2 233.6h0M280.1 233.7h0M271.2 196.7h0M290.1 229h0M361.1 210.6h0M294 200.8h0M330.2 219h0M303.1 153.1h0M312.2 192h0M310.6 162.3h0M283.3 286.2h0M285.5 218.9h0M272.4 206.4h0M297.3 233.8h0M282.9 236.2h0M293.7 224.3h0M312.6 195.2h0M305.8 253.4h0M304.7 153.8h0M273.5 185.8h0M305.3 149.3h0M336.4 207.9h0M301.9 203.8h0M290.5 267.5h0M296.7 163.3h0M344.8 193.2h0M323.9 221.7h0M332.3 201.1h0M307.4 201h0M324.8 247h0M292.2 274.9h0M283.8 241.4h0M356.7 223.3h0M320.4 164.1h0M300.8 241h0M276.7 264.9h0M280.4 201.9h0M328.4 248.1h0M312.2 205.8h0M290.4 151.5h0M304.6 164.5h0M269.3 192.5h0M313.8 253.3h0M305.3 176.7h0M277.9 258.3h0M339.9 225.9h0M280.5 258h0M300 264.4h0M288 262.2h0M280.3 237h0M321.5 169.6h0M298.2 277.4h0M332.2 216.9h0M327.7 167.8h0M317.8 209.6h0M300.1 177.5h0M293.6 226.2h0M288.9 238.3h0M347.3 230.7h0M333.2 207.5h0M292.7 147.4h0M262.9 210.9h0M270.8 217.2h0M279.2 251.3h0M299.3 234.1h0M269.6 175.9h0M299.4 186.4h0M284.1 162.6h0M278.6 219.3h0M300 150.5h0M302.2 234.3h0M296.1 226.3h0M315.5 254.9h0M265.9 177.5h0M335.5 212.9h0M315.5 206.2h0M268.8 206.1h0M286.5 232.5h0M300.3 168h0M299.2 275h0M284.5 212.9h0M315.6 244.7h0M306.6 271.7h0M302.9 243.3h0M283.3 183.5h0M338.1 229.7h0M290.8 243.3h0M302.8 252.8h0M261.3 196.4h0M311.9 174.8h0M280.9 271.6h0M291.9 168.5h0M265 180.2h0M278.6 283.2h0M294.1 181h0M348.4 201h0M263.8 225.6h0M294.2 250h0M313.1 207h0M279.4 190.7h0M359.4 223.5h0M302.1 206.6h0M319.4 213.8h0M282 155.1h0M263.6 208.2h0M325.3 219.5h0M304.1 245.2h0M325 230.4h0M301.9 177.4h0M349.5 208.4h0M292.1 254.9h0M267.2 182.7h0M316.2 194.7h0M309.5 233.8h0M286.9 211.8h0M290.8 199.8h0M333.7 235.6h0M321.3 185h0M339.9 217.8h0M289.6 196.4h0M300.7 200.5h0M362.4 216h0M313.5 201.9h0M301.6 277.8h0M309.5 183.9h0M285.7 207.8h0M320.2 213.4h0M278.4 164.3h0M312.3 225.7h0M275.7 172.2h0M294.2 266.1h0M331.2 222.2h0M316.7 159.1h0M291.7 204.3h0M265.6 219h0M348.3 198h0M298.1 157.4h0M287.2 234.1h0M308.2 218.3h0M289.9 160.8h0M285.6 156.8h0M289.4 154.4h0M303.9 177.8h0M327.6 180.5h0M276.8 212h0M339.6 204.3h0M327.7 163.9h0M322.5 175.3h0M291.5 254h0M324.2 163.1h0M283.9 285h0M327.8 203.8h0M287.1 265h0M293.5 163.1h0M296.2 250.9h0M296.7 231.4h0M327.1 200.6h0M294.8 273.5h0M326.5 221.3h0M272.5 215.8h0M319.4 249.2h0M278.2 171.5h0M313.3 219.4h0M278.4 285.1h0M270.8 185.8h0M275.6 194.5h0M270.1 185.9h0M324.8 252.8h0M308.7 163.3h0M288.3 285.4h0M293.4 255.1h0M316.3 195.8h0M288.9 159.4h0M310.1 186.6h0M291.5 144.8h0M349.8 204.5h0M355 212.2h0M314.8 164.3h0M335.6 206.6h0M314.5 230.7h0M350.8 219.8h0M301.1 184.2h0M294.1 252.7h0M325.1 164.7h0M320.9 201.5h0M294.5 257.1h0M262.4 204.7h0M282.5 241.7h0M304 250h0M280.7 229h0M272.8 204.2h0M295.3 153.5h0M310 229.1h0M261 189.9h0M311 219.6h0M302.1 280.5h0M296.2 191h0M326.2 219.3h0M303 176.3h0M323.5 197.9h0M325.4 224.2h0M264.4 207.3h0M304.5 185.3h0M298.1 200.5h0M323.5 247.2h0M304.4 210.9h0M289.3 243.5h0M305.8 215.5h0M316.5 221.2h0M291.9 251h0M310.3 188.4h0M311.9 251h0M332.5 209.6h0M310.4 191.7h0M351.4 205.3h0M282.9 237.1h0M336.8 192.2h0M324.4 236h0M317.6 215.1h0M350.8 224.4h0M295.2 221.4h0M274.6 202.8h0M267.2 202.2h0M302 278.5h0M276.8 193.6h0M272.1 220.6h0M310.1 277.6h0M346.2 205.3h0M288 269.8h0M295.4 164.7h0M297.2 267.9h0M361.6 218.8h0M303.2 153.9h0M269.8 189.7h0M294.2 150.9h0M297.9 271.9h0M297.6 197.4h0M326.2 217.3h0M300 287h0M327.2 214.8h0M334.7 191.2h0M287.3 273.5h0M262.7 183.9h0M283.6 257.9h0M315.5 262.9h0M352.9 216.6h0M290.7 255.5h0M267 223.5h0M272.5 214.8h0M321.2 183.4h0M325.7 235.8h0M300.3 276.1h0M335 232.3h0M290.9 223.2h0M283.8 250.2h0M322.3 222.4h0M313.5 156.3h0M297.7 193h0M321.3 258.5h0M284.7 191.4h0M322.2 260.5h0M311.7 207.9h0M312.5 171.8h0M345.4 218h0M299 201.7h0M283.9 190.2h0M349.8 226.1h0M351.7 207.1h0M298.6 201.5h0M325.4 256.7h0M258 205.1h0M306.2 204.1h0M316.7 250.6h0M288.5 202.4h0M308.9 237.9h0M328.1 166h0M347.6 198.8h0M329.3 182.2h0M343.2 207h0M336 212h0M296.7 200.8h0M278.3 262.8h0M280.9 258.9h0M272.5 224.8h0M270.6 202.2h0M273.2 205.1h0M335.8 176.4h0M299.1 163.6h0M273.4 232.4h0M320.8 233.3h0M289.7 212.4h0M280.9 220.9h0M305.3 268.1h0M317.2 246.5h0M312.7 249.9h0M274.2 170.1h0M290.2 203h0M325.1 259.2h0M332.8 205.2h0M279.8 180.3h0M272.7 218.9h0M303.3 235.6h0M258.1 203.1h0M313.5 233.6h0M316 156.9h0M342 198.9h0M286.1 161.5h0M315.5 213.1h0M330.8 180.9h0M301.2 191.8h0M287.8 247.2h0M269.7 211.4h0M340.3 218.2h0M316 209.6h0M308.1 212.7h0M350.5 211h0M316.3 264.5h0M292.5 247.9h0M348.1 212.1h0M333.3 179.4h0M266 196.5h0M293.8 185.1h0M331.1 165.5h0M342.8 228h0M320.4 254.6h0M336.2 207.1h0M288.3 173.1h0M296.7 247.8h0M303.3 268.4h0M300.7 177.4h0M321.7 237.5h0M320.1 183.9h0M339.7 231.9h0M351.7 203.8h0M326.5 220.5h0M306.3 149.2h0M275.1 181.3h0M307.8 277.2h0M277.1 198h0M295.9 266.5h0M340.6 192.7h0M276.2 212.1h0M304.6 239.3h0M348.1 207.2h0M328.3 230h0M279.8 212.4h0M313 258.4h0M330.2 172.8h0M289 204.6h0M272 205.6h0M264 201.5h0M317.8 213.6h0M278.1 172.1h0M309.2 259.5h0M274.8 218.2h0M292.7 184.6h0M320.5 231.3h0M334.1 175.5h0M265.1 226.3h0M284.3 164.1h0M334 240.3h0M305.7 279.1h0M309.1 195.3h0M303 167.9h0M298 242.5h0M298.9 192.4h0M307.2 279.9h0M290.7 210h0M304.8 263.8h0M318.5 240h0M261.8 192.7h0M271.7 183.8h0M272.9 171.3h0M329.3 195.2h0M270.9 229.7h0M269.1 210.2h0M264.7 196.2h0M309.5 167.2h0M274.6 176.6h0M261.5 199.2h0M310.5 224h0M330.2 174.9h0M328.5 172.3h0M277.5 165.3h0M294.6 257.1h0M320.6 212.4h0M289.4 209.8h0M298.9 172.1h0M330.9 244.6h0M340.4 227.1h0M300.6 160.2h0M296.6 233.6h0M310.8 231.4h0M274.2 189.7h0M278.8 277.2h0M332.7 206.4h0M317.8 170.4h0M309.8 230.8h0M308.3 275.3h0M324.9 224.8h0M308.6 190.7h0M301.7 198.5h0M299.4 269.5h0M292.7 219.7h0M293.5 148.2h0M278.7 279.7h0M302.6 177.2h0M301.8 183.8h0M303.8 248.2h0M329 246.7h0M306.6 167.1h0M336.6 187.8h0M319.8 174.1h0M290.2 244.5h0M331.3 224.2h0M332.6 184h0M290 287.1h0M305 157.4h0M352.4 226.4h0M295.2 206.2h0M290.8 186.7h0M267.9 183.5h0M321.3 191.5h0M281.1 219.5h0M345 221.6h0M341.2 209.2h0M292.5 164.9h0M275.7 194.5h0M269.7 211.7h0M312.8 167.4h0M308.2 254h0M290.1 269.3h0M298.8 210.6h0M300.7 233.4h0M296 155.8h0M312.9 238.6h0M325.3 187.8h0M326.1 237.8h0M286.6 182.7h0M272 222.2h0M304.1 166.4h0M325.3 245.3h0M314.2 244.1h0M271.5 220.1h0M329.4 194.6h0M295.2 151.2h0M321.7 187.5h0M303.5 231.1h0M293.2 172h0M329.9 179.9h0M280.1 260.9h0M317.7 237.2h0M288.9 226.4h0M292.9 220.5h0M304.4 262.5h0M318.3 262.5h0M301.4 215.5h0M270.6 221.6h0M298.5 152.1h0M356 224.6h0M325.2 171.2h0M306.8 184.5h0M314.5 268.8h0M301 183.7h0M317.7 201.6h0M259.2 206.6h0M318.4 236.4h0M278.6 160.1h0M286.5 153.2h0M299.9 241.8h0M291.9 236.6h0M316.6 181.8h0M291.1 212h0M310 151.4h0M346.8 226.5h0M287.8 220.2h0M319.5 164.4h0M289.4 179.3h0M292.5 266.2h0M322 187.2h0M267.2 201.7h0M298.5 210.5h0M291.6 235.1h0M312.4 175.4h0M305.1 201.4h0M286.7 224h0M303.7 244h0M310.9 174.7h0M285.1 184.8h0M289.1 248.7h0M330.7 207.5h0M306.9 193.2h0M324.8 253.2h0M356.2 218.9h0M288.6 258.4h0M264.5 184.2h0M266.4 180.7h0M315.3 188.2h0M290.3 156.8h0M318.6 212.3h0M325.4 239.6h0M314.5 174h0M281.1 225.3h0M287.5 288.5h0M300.8 286.9h0M306.9 218.2h0M303.7 154.6h0M268 184.6h0M281.2 292.5h0M321.7 255h0M282.3 287.8h0M325.2 223.9h0M315.6 193.6h0M298.6 162.6h0M300 262.4h0M329.3 204.2h0M263.7 190.1h0M310.7 150.1h0M272.2 212.9h0M327.8 218.8h0M282.4 193.3h0M306.9 161.5h0M274.9 188.3h0M286.3 155.2h0M326.6 180.2h0M301.6 211.5h0M346.1 220.4h0M288.8 245h0M293 205.9h0M272.1 224.2h0M281.7 196.2h0M319.6 255.3h0M311.4 233.4h0M270.1 191.5h0M284.5 204.1h0M281.2 213.8h0M318.3 180.1h0M258 203h0M310.3 267.8h0M320.2 211.9h0M299.5 205.8h0M307 171.1h0M279.1 167.7h0M294.1 174.5h0M320.3 201.1h0M340.3 215.1h0M279.5 258.9h0M302.1 177.9h0M324.2 260.9h0M322.1 195.2h0M309.1 276.3h0M258.3 193.8h0M312.9 160.7h0M285.9 254.7h0M333.7 183.6h0M300.3 169.9h0M282.3 156.4h0M346.7 231.3h0M344.3 204h0M281.1 248.2h0M296.8 177.3h0M291.8 167.9h0M278 167.9h0M279.9 198.2h0M290.8 222.7h0M310.2 243.7h0M337.3 189.3h0M326.6 195.4h0M331.1 213.8h0M323.1 178.9h0M289.3 289.4h0M285 244.5h0M356.5 216h0M277.9 205.5h0M296.4 216.2h0M330.7 171.7h0M280.3 172.2h0M286.4 226.3h0M321.9 195.2h0M287.4 189.5h0M322.4 253.7h0M350.1 229.2h0M294.3 267.7h0M273 177.8h0M337.2 234h0M297.6 262.6h0M314.1 204.6h0M320.7 192.9h0M309.3 250.5h0M298.3 152.2h0M342.7 217.8h0M286.4 158.9h0M284.4 283.1h0M257.3 200.3h0M277.6 224.9h0M322.8 236.9h0M329.1 198.9h0M332.8 192h0M318.7 254.1h0M297.4 274.6h0M270.8 223.2h0M296.2 289.7h0M296.2 225h0M316.2 254.6h0M337.8 254.2h0M319.9 203.3h0M297.5 185.4h0M197.2 248.7h0M206.1 273h0M266.1 208.6h0M304.5 176h0M358.9 198.5h0M331.1 232h0M239 266.9h0M232.7 177.1h0M263.6 151.9h0M290.8 254h0M258.4 172.1h0M273.7 257.3h0M267.5 194h0M333.4 254.7h0M313.1 185.5h0M268 289.4h0M259.3 258.8h0M311.4 270.8h0M250.5 176.5h0M241 199.8h0M319.2 237h0M256.6 199.9h0M282.7 281.4h0M234.7 201.6h0M232.9 233.6h0M326.8 183.1h0M310.6 149.1h0M242.2 270.4h0M301.9 250.3h0M315.5 136.8h0M233.8 283.9h0M297.4 190.1h0M203.9 214.6h0M291.4 159.1h0M260.1 205.9h0M212.5 222.6h0M267.2 199.8h0M303.3 248.5h0M328.4 215.4h0M254.2 265.6h0M364.7 205.5h0M224.1 200.2h0M233.1 214h0M274.8 294.8h0M300.1 237.3h0M245.5 185.8h0M201.2 226.2h0M243.3 240.7h0M262.4 179.7h0M274 232.4h0M223.1 197.8h0M323.8 226.9h0M200.4 262.7h0M322.6 243.4h0M279.6 256.6h0M231.4 210.5h0M347.6 214.6h0M284.2 227.2h0M306.6 277.4h0M262.7 182.5h0M207.1 262.6h0M349.5 181.4h0M245.3 208.6h0M277.3 285.3h0M321.8 204h0M281 149.8h0M255.4 238.4h0M239.1 272.1h0M265 259.6h0M194.9 273.6h0M301.1 250.1h0M289.3 206.5h0M282.2 166.5h0M234.8 269.4h0M308.3 245.6h0M289.7 247h0M285.6 294.5h0M371.1 222.6h0M341.9 157.9h0M263.8 231.6h0M228.3 248.7h0M323.3 215.1h0M231.7 259.4h0M342.8 232.9h0M339.1 184h0M302.7 183.3h0M286.5 217.1h0M306 284.7h0M280 171.4h0M274.5 165.8h0M283.1 169.5h0M202.1 229.8h0M286.4 202h0M210.7 267.2h0M235.8 198.4h0M267.5 201.7h0M249 247.8h0M357.2 202.1h0M238.1 211.4h0M224.2 250.2h0M278.5 278.1h0M293.2 134.5h0M333.8 212.3h0M324.7 161.8h0M362.7 213.5h0M304.3 230.3h0M321.6 231.9h0M312.5 206.6h0M331.9 263.4h0M289.1 208.7h0M254.5 161.4h0M334.5 182.5h0M328.2 237.5h0M325.5 274.7h0M298.9 212.6h0M261.8 184.1h0M244.6 283.9h0M229.7 285.5h0M323.2 250.9h0M316.6 151.9h0M323.1 197.8h0M280.8 176.3h0M273.2 157.5h0M262.2 240.8h0M305.5 178.4h0M243.2 198.5h0M335.5 223.8h0M332.2 179.7h0M332.7 204.8h0M235.3 193.9h0M262.7 151.9h0M313.3 135.6h0M303.7 236.2h0M349.8 183.5h0M318.9 225.7h0M288.4 249.3h0M271.6 216h0M254.7 173.3h0M264.2 279.6h0M210.1 207.8h0M295.3 154.2h0M258.1 242.6h0M265 296.6h0M222.4 272.7h0M216.5 263.9h0M347.2 203.8h0M298.3 254.9h0M263.9 215.9h0M255.8 230.2h0M294.6 174.1h0M319 245.6h0M209.1 280.1h0M289.5 245.4h0M256.4 251.9h0M309.8 186.7h0M347.9 228.2h0M262.3 269.4h0M331.6 234.2h0M321.6 279.9h0M350.5 147.7h0M247.9 177.5h0M258.3 151.8h0M330.7 148.1h0M229.6 224.5h0M290.8 207.7h0M309.9 183.1h0M353.8 229.8h0M353.5 229.1h0M345.4 244.5h0M287.2 139.8h0M225.5 214.2h0M212.7 229.4h0M352.6 214.8h0M300.4 161.1h0M294.9 181.4h0M320.1 168.8h0M292.9 147.8h0M254.1 197h0M216.2 276.4h0M333.3 139h0M301.4 236.6h0M255 267.1h0M286.5 240.1h0M331.6 184.1h0M265.3 153.2h0M238.2 196.4h0M242.5 247.9h0M232.3 175.9h0M313.7 261.7h0M310.2 139.8h0M361.9 215.5h0M289.8 255.3h0M345.8 207.3h0M285.1 174.2h0M325.7 203.4h0M273.3 225.8h0M289.2 234.3h0M237.7 243.9h0M320.7 279.9h0M363.6 159.4h0M250.9 274.6h0M207.8 261.9h0M306.8 211.2h0M311.1 237.9h0M271.2 248.4h0M362.8 219.5h0M237 264.2h0M320 216.5h0M281 248.1h0M347 189.3h0M201.4 244.3h0M294.9 205.6h0M234 270.7h0M240.9 218.9h0M315.7 270.5h0M290.3 133.8h0M304.7 263.6h0M253.8 212.7h0M321.8 240.1h0M268.2 200.4h0M318.9 164.2h0M299.6 183.1h0M327.3 178.2h0M344.5 168.8h0M317.3 167.8h0M257 172.2h0M355.4 223.9h0M323.1 174h0M276.9 210.5h0M285.9 185.8h0M295.9 282.5h0M243.9 199.3h0M285.4 250h0M203.7 227.7h0M293.5 293.2h0M205.4 243.1h0M259.1 213.6h0M270.4 245.6h0M247.3 167.1h0M321.3 217.4h0M347.7 217h0M341.1 175.3h0M215.7 249.5h0M287.5 273.6h0M324.3 258.1h0M255.4 158.1h0M230.9 183.1h0M247.7 167.4h0M349.2 215h0M198.3 253.4h0M290.9 232.4h0M290.3 289.7h0M365.1 227.3h0M340.8 216.1h0M251.5 185.5h0M319.3 181.7h0M333.2 201h0M317.2 181.9h0M348.1 239.5h0M317.8 198.5h0M315.1 275.4h0M346.8 153.6h0M230.9 227.4h0M208.4 236.4h0M317.4 208.7h0M328 237.5h0M268.5 184.2h0M211.5 238h0M229.9 274.1h0M343 168.3h0M296.6 150.3h0M236.1 178.5h0M370 208.9h0M256 211.1h0M340 249.7h0M336.9 149.4h0M283.7 153.8h0M359.6 229.9h0M255 182.3h0M261.5 244.1h0M297.5 161.5h0M201.9 262.5h0M259.3 224.7h0M276.7 203.9h0M338.6 165.6h0M285.9 260.7h0M325.8 206.1h0M297.6 200.6h0M343 217.1h0M255.2 158.5h0M269.2 147.1h0M323.8 213.4h0M327.3 184.9h0M284.9 281.8h0M337 223.8h0M243.4 281.6h0M269.9 190.7h0M228.8 223.9h0M313.5 186.8h0M240.5 197.3h0M248.2 186.8h0M242.6 228.7h0M333.1 232.2h0M359.5 151.4h0M310.7 198.6h0M264.3 187h0M333.1 211.4h0M264.2 216.4h0M241.8 206.7h0M261.6 177.6h0M319.2 186.3h0M347.9 177.5h0M321.5 144.2h0M288.4 277.4h0M263 193.6h0M219.5 266.6h0M255.7 252.9h0M278.8 206h0M331.6 200h0M299.1 156.3h0M277.4 192.5h0M202.8 252.5h0M258.3 287.9h0M207.4 245.7h0M292.7 255.8h0M323.4 134.9h0M278.2 288.5h0M232 178.6h0M212.2 202.1h0M256.5 161.3h0M256.4 246.2h0M209.2 242.1h0M280.1 140h0M295.1 235.1h0M335.6 175.8h0M242.6 247.6h0M237.1 190.6h0M244.6 197.5h0M342 238.8h0M243 214.3h0M279.2 180.3h0M254.4 277.4h0M279 197.7h0M302.7 249.1h0M368.8 206.5h0M255.1 257.4h0M285.9 237.2h0M358.6 217.9h0M249 264.8h0M204.7 214.9h0M257 170.4h0M323.7 227h0M289.1 282h0M230.4 184.1h0M265.1 203.7h0M309.4 152.6h0M278.9 170.3h0M311.3 234.2h0M304.3 290.4h0M282.4 257.9h0M325.3 172.3h0M355 153.4h0M312.7 192.7h0M354 173.7h0M318.9 189.3h0M368 217.3h0M361.4 213.3h0M344.4 192.9h0M278.5 207.1h0M269.2 291.3h0M232.2 252.5h0M294.1 179.3h0M214 259.7h0M251.8 237.7h0M348.8 192.2h0M206.9 245.2h0M301.1 207h0M251.8 217.5h0M258.5 240.2h0M318.9 187.4h0M309.5 166.2h0M306.9 187.9h0M270 228.1h0M274.7 271.6h0M236.2 183.4h0M223.4 272.1h0M201.3 242.7h0M219.9 203.9h0M286 238.9h0M371.5 223.1h0M241.1 169.4h0M318.4 149h0M255.7 240.2h0M252.1 187h0M338.1 203.3h0M298.2 142.4h0M271.9 242.7h0M343.8 236.5h0M261.8 180.4h0M301.6 187h0M233.7 226.7h0M298.8 217.9h0M268.8 201.7h0M210.4 231.7h0M351.1 236.7h0M331.1 165.8h0M231.9 208.9h0M274.4 196.8h0M278.1 279.5h0M269.7 288.5h0M225 218h0M315.4 154.9h0M230 233.1h0M281.5 205.9h0M231.6 213.8h0M197.8 274.5h0M262.4 244.5h0M270.3 191.2h0M233.3 215h0M300.5 238.2h0M296.7 154.7h0M259.2 203.6h0M198.7 251.6h0M324.4 273.2h0M194.3 268.8h0M369.2 221.9h0M299.1 185.7h0M340.4 200.5h0M219.2 231.6h0M285.9 193.2h0M225 267.8h0M260.7 162.7h0M281.7 185.7h0M280.5 163.3h0M281 172.2h0M342.8 156.4h0M321.8 223.9h0M327.2 210.4h0M266.8 242.1h0M198.3 246.5h0M205 210.9h0M300.3 200.5h0M302.2 281.3h0M312.9 285.5h0M250.6 277.6h0M249.4 232.9h0M316.1 181.2h0M342.5 186.2h0M334.3 180.9h0M201.1 253.1h0M274.6 164.6h0M322.4 155.5h0M225.3 209.4h0M229.2 283.6h0M225.3 218.3h0M205.4 243.5h0M327.9 190.4h0M294.7 213.2h0M269.5 278.7h0M345.4 211.2h0M263.6 277h0M280.1 253.4h0M329.6 180.1h0M262.7 241.3h0M344.3 148.9h0M341.7 233h0M361.1 210.6h0M286 150.3h0M312.3 197.6h0M249.8 225.8h0M247.8 238.7h0M345.4 238.4h0M300.8 255.1h0M252.2 225h0M314.9 281.2h0M243.7 205.5h0M276.1 287.8h0M255.2 253.6h0M319.8 162.6h0M323.1 203.9h0M229.3 210.3h0M269.1 295.5h0M295.1 216.9h0M313.6 239.4h0M217.6 225.8h0M313.1 208h0M220.6 216h0M312 181.4h0M275.4 284.2h0M287.9 292h0M260.8 278.9h0M301.7 240h0M308.8 272.6h0M308 133.9h0M301.6 158h0M247.3 189.9h0M284.2 225.4h0M276.4 176.1h0M327.7 237.2h0M283 203.2h0M236 246.9h0M217.9 233.6h0M340.8 158.2h0M325 228.2h0M236.6 245.1h0M241.1 271.9h0M298 194.5h0M366.4 210.2h0M278.7 148.6h0M319.2 268.2h0M316.2 219.1h0M361.8 212.6h0M229 183.6h0M212.6 283.3h0M207.3 239.3h0M304.9 268.9h0M318.3 242.4h0M224.3 210.4h0M250.1 249.4h0M323 210.8h0M334.1 206.5h0M235.4 240.1h0M232.9 241.1h0M215.6 242.2h0M282.2 152.6h0M303.6 234.4h0M193.7 250.8h0M231.3 221h0M223.3 207.9h0M259.7 282.1h0M285.7 193.9h0M269.6 179.9h0M259.7 260.1h0M267.7 280.1h0M265.7 271.6h0M209.8 250.6h0M306.5 207.9h0M345 169h0M291.8 153.4h0M267.7 295.9h0M253.4 207.9h0M310.4 207.4h0M321.7 198.2h0M348.9 178.3h0M356.2 213h0M322.8 223.7h0M343.7 198.3h0M308.9 261.3h0M200.8 240h0M250.2 206.9h0M323.4 276.9h0M331.3 200.2h0M300.4 267.2h0M271 140.7h0M261.7 204.3h0M270.3 191.8h0M288.5 259.4h0M223.7 253.7h0M264.9 176.6h0M218 276.3h0M287 212.8h0M205.7 279.4h0M272.7 242.3h0M284.4 141.1h0M303.4 163.3h0M274.9 202.7h0M351.7 212.3h0M278.7 229.8h0M352.4 199h0M213.8 233.6h0M261.5 283.9h0M266.1 240.5h0M212.3 200.8h0M273.5 174.7h0M247.9 172h0M230.7 278.6h0M285.6 276.1h0M281.7 234.4h0M328.7 179.4h0M340.6 188.5h0M218.9 212.4h0M302.8 256.2h0M320.4 228.7h0M227.6 274.9h0M199.2 254.3h0M298.6 291h0M290.3 167.7h0M219.9 266.6h0M327.8 190.7h0M264 173.7h0M262.5 227.6h0M311.8 275.6h0M232.1 276.8h0M358.8 224.5h0M297.9 184.8h0M323.7 182.5h0M337.1 190.5h0M276.1 218h0M294.6 210.3h0M288.5 160.7h0M339.6 224.3h0M274.1 279.7h0M217.7 243.3h0M274.2 260.8h0M315 230.3h0M322.2 273.1h0M285 139.5h0M264.6 161.2h0M301.8 213.2h0M313.7 214.8h0M260.1 268.5h0M344.6 237h0M271.4 181.1h0M288.1 171.5h0M287 287.9h0M285.3 135.8h0M291.1 255.9h0M303.3 282.5h0M252.8 184.3h0M293.1 270.3h0M256.9 189.7h0M334.8 156.1h0M257.3 181.2h0M247.8 277.6h0M225 237.6h0M282 270.7h0M257.4 213.8h0M237.5 175.2h0M309 224.5h0M310.1 238.3h0M277 151.3h0M205.7 261.6h0M324.2 182.9h0M211.4 276.8h0M328 255.1h0M257.5 192.3h0M309 193h0M310.5 137.3h0M274.4 164.2h0M312.5 136.4h0M216.9 220.1h0M274.3 273h0M255.9 243.7h0M370.9 221.1h0M318.4 262.3h0M273.2 280.7h0M217.7 275.2h0M322 148.3h0M258.9 268.4h0M278.2 268.3h0M277.4 154.3h0M341.7 213.1h0M246.3 273.1h0M258.3 249.1h0M270.7 167.5h0M271.8 283.1h0M343.1 194h0M296.3 194h0M225.2 253.7h0M270.1 186.5h0M308.5 201.2h0M216.6 267.8h0M238.3 261.5h0M336.2 161.8h0M219.1 277.6h0M292.4 191.2h0M230.7 178.1h0M272.5 177.3h0M233.4 192.3h0M215.7 207.2h0M231.8 187.3h0M285.3 176.8h0M330.5 139.6h0M301.8 280.7h0M311.7 283.6h0M261.7 225.8h0M273.4 142.4h0M259.6 166.9h0M335.4 213.7h0M194.4 255.6h0M327.4 252.2h0M204.1 261.2h0M361.1 168.2h0M202.3 282.3h0M312.5 241.6h0M252.6 262h0M268 173.6h0M308.8 236.8h0M291.8 286.6h0M311.5 144.3h0M271.9 215.3h0M227.7 234.8h0M227.6 266.5h0M282 271.9h0M346.1 146.1h0M270.1 294h0M336.9 164.2h0M227.1 256.9h0M258.3 177.6h0M195.9 272.9h0M336.7 167.3h0M338.6 253h0M229.3 183.3h0M257.3 263.8h0M282.1 196h0M253.1 176.2h0M369.5 223h0M314.5 215.2h0M263.9 186.1h0M236.8 183.5h0M202.5 234.7h0M250.3 286.4h0M214.8 209h0M279.7 261.8h0M311.4 136.6h0M328.8 135.1h0M233 178.6h0M292.6 192h0M253 197.2h0M260.2 216.9h0M293.6 253h0M239.7 170.9h0M273.7 259h0M281.7 147h0M327.4 256.5h0M327 246.9h0M308.5 150.8h0M312.5 283.5h0M266.4 211.4h0M280.5 143.7h0M310.1 269h0M263.9 183.5h0M316.3 256.5h0M295.7 133.6h0M271.2 291.7h0M231.7 194.8h0M248.7 261.7h0M249.6 165.5h0M306.9 155h0M340.2 211.2h0M251.8 195.9h0M241.8 214.5h0M259.7 194.8h0M225.1 270h0M237.1 198.2h0M285.7 290.4h0M201.4 259.7h0M279.7 249.6h0M227.4 278h0M306.3 220.9h0M240.9 210.4h0M280.4 165.4h0M261.3 268.6h0M343.9 155.4h0M238.3 223.8h0M237.4 214.5h0M210.7 243.7h0M277.1 191.8h0M266 177.7h0M314.7 198.1h0M257.6 158.4h0M298.6 133.2h0M360.2 213.7h0M241.6 270.1h0M327.6 164h0M268.4 165.2h0M261.3 177.7h0M257.7 209.5h0M305.1 262.3h0M285 272.4h0M279.6 148.2h0M268.7 163.9h0M321.1 246.2h0M324 192.5h0M219.9 206.6h0M253.1 203.3h0M218.8 212.8h0M285.4 205.3h0M234.1 272.7h0M335.4 231.4h0M320.8 271.6h0M337.9 239.5h0M339.4 165.1h0M281.2 244.6h0M307.8 163.9h0M308.5 266.8h0M351.4 219.6h0M291.4 156.8h0M276.7 282.8h0M307.4 189.1h0M212.7 202.8h0M328.2 260.1h0M347.5 172.7h0M218.6 200.8h0M326.2 216.7h0M291.1 284.1h0M317 217.1h0M230.6 228.5h0M324.7 152.1h0M253 286.7h0M245.8 247.7h0M244.3 235.1h0M254.2 281.1h0M332.4 199.1h0M330.3 235.1h0M249.9 280.3h0M322.8 161h0M347.5 208.5h0M260 235.1h0M225.5 250.5h0M219.5 283.7h0M260 276.2h0M301.3 247.7h0M261.1 286.7h0M234 233.4h0M301.3 243.9h0M292.4 283.3h0M253 254.2h0M310.7 177.4h0M326.7 227.4h0M298.7 204.2h0M317.4 233.2h0M313.3 213.9h0M291 188.3h0M259.5 193.3h0M305.1 229.3h0M210.8 274.3h0M209.2 214.6h0M322.3 208.8h0M226.3 195.9h0M289.4 197.2h0M252.6 177.6h0M210.4 217.7h0M341.3 236.6h0M336.9 149.4h0M271 170.8h0M274.6 186.2h0M195.9 274.4h0M245.8 238.5h0M309.4 239.3h0M285.2 264.7h0M259.3 217.2h0M315.4 234.9h0M240.6 212.5h0M211.5 277.8h0M219.4 222.7h0M225.5 252.3h0M352.3 194.7h0M255.3 220.3h0M252.9 156.7h0M262.5 285.5h0M343.4 161h0M295.5 143.2h0M312 152.9h0M307.6 187.5h0M290.1 195.2h0M347.6 217.3h0M277.9 160.4h0M330.5 145.3h0M294.4 193.8h0M294.9 244.6h0M351.1 152.5h0M308.2 180.3h0M231 177.2h0M263.9 176.1h0M227.7 202.3h0M305.9 214.7h0M308.5 144.8h0M279.7 245.4h0M218.4 205.1h0M327.9 171.6h0M226.6 187.1h0M305.3 208h0M247.6 251.6h0M283.4 219.6h0M259.6 151.4h0M277.8 197.1h0M358.8 217.5h0M258.3 235.7h0M318.4 145.5h0M241.9 253.4h0M328.8 251h0M257.3 222.4h0M309.9 172.6h0M235 255h0M292.2 252.7h0M273.4 161.4h0M262.8 292.9h0M258 175.2h0M255 179.7h0M283.9 275h0M221.7 198.6h0M251.1 239.3h0M307.7 209.9h0M207.3 239.7h0M217.6 200h0M342.7 178.8h0M247.2 221.5h0M332.3 242.4h0M322.8 220.5h0M368 212.2h0M240.1 275.9h0M208.4 233.9h0M341.6 181.2h0M259.3 225.8h0M309.6 260h0M285.8 282.2h0M276.1 157.6h0M198.2 243.6h0M321 251.3h0M351.2 228.1h0M256.6 209.1h0M297.9 214h0M263.4 231.8h0M295.3 293h0M324.8 269.8h0M225.3 269.7h0M298.1 207.6h0M278.9 148h0M344 207.1h0M309.6 235.6h0M320 160.2h0M198.8 267.3h0M250.7 176.5h0M330.2 158h0M279 233.6h0M219.8 241.3h0M281.6 207h0M230 255.7h0M282 234.3h0M335.1 209.8h0M285.6 293.7h0M264.2 245.5h0M332.9 262.1h0M244.3 205.3h0M321.2 249.2h0M340.8 189.6h0M258.8 167.3h0M292.6 187.2h0M317.5 156.6h0M250.4 200h0M299.8 210.6h0M364.3 218.3h0M287.3 232.9h0M215.9 214.8h0M308.8 179h0M315.2 285h0M330.9 218.1h0M357 158.9h0M266.5 240.3h0M254.9 202h0M205 269.1h0M259.8 264.9h0M209.8 230.5h0M312.7 248.1h0M224.6 189.4h0M296.5 158.9h0M344.1 173.7h0M287.6 294.5h0M259.5 200.6h0M233.5 242.2h0M314.5 162.4h0M323.1 186.3h0M234.4 209.1h0M259.5 224.7h0M332.4 264.3h0M339 208.7h0M303.4 162h0M253.9 156h0M304.4 292h0M254.3 200.4h0M346.9 193.8h0M281.2 284h0M231.3 198h0M291.5 177.9h0M300.6 238.4h0M258.2 231.9h0M328.4 167.7h0M316.3 145h0M306.2 168.6h0M281.2 292.5h0M209.6 246.4h0M258.2 258.7h0M333.2 164.8h0M276.4 292.5h0M244.5 223.6h0M204.7 275.9h0M193.8 272.2h0M346.9 214.6h0M265.2 235.7h0M261.3 295.2h0M211.6 202h0M334.7 140h0M302 132.3h0M324.5 276.7h0M353.8 208.8h0M304.4 182.9h0M349.2 219.5h0M279.6 215.4h0M233.6 262.2h0M245.5 268.3h0M267.4 224.4h0M213.2 204.5h0M259.2 162.7h0M271 187.2h0M275.6 287.8h0M336.5 179h0M248.5 276.7h0M300.5 278.7h0M264.6 204.6h0M205.3 265.4h0M215.3 202.3h0M222 216.8h0M342 245h0M279.7 232.7h0M271.5 163.1h0M236.9 260.9h0M323.1 246.7h0M322.2 165.7h0M255.1 165.6h0M193.7 257.8h0M207.2 278.9h0M249.1 258.7h0M328.5 245.7h0M266.9 279.7h0M213 241.7h0M280.5 161.5h0M279 164.8h0M260.4 208.7h0M295.5 239.1h0M225 283.8h0M298.2 221.9h0M291.5 171.7h0M208.1 232.4h0M220.3 266.2h0M264.6 182.8h0M242.8 177.7h0M218 225.9h0M310 263.7h0M330.9 217.7h0M295.3 280.9h0M296.1 134.9h0M267.3 252.6h0M280.7 288.3h0M326.5 271h0M291.8 282.8h0M303.3 246.3h0M327.6 142.1h0M294.4 184h0M335.8 218h0M286 218.4h0M242.4 277.2h0M302.9 166.3h0M219.1 269.9h0M224.4 250.9h0M288.1 211.7h0M347.3 228.4h0M286.7 152.2h0M296.3 223.2h0M221.3 272.7h0M230.1 205.5h0M267.1 147.5h0M229.2 246.3h0M269.7 294.4h0M348.9 226.6h0M235.5 271.4h0M345.4 183.5h0M239.6 184.7h0M276.2 185.1h0M323.6 252.2h0M291.2 220.9h0M278.7 201.3h0M286 256.6h0M373.3 215.1h0M229.1 250.1h0M301.5 167.1h0M298.8 266.1h0M334.4 245.9h0M248 247.9h0M243 233.1h0M231 205.9h0M233.8 219.3h0M232 221h0M346.7 184.9h0M298.8 290.8h0M275.2 174.7h0M261.6 259.2h0M333.1 163.3h0M306.7 284.4h0M301.5 227.5h0M315 220h0M300.5 151.5h0M329.9 170.4h0M219.1 225.6h0M278.8 165.9h0M291.1 280.1h0M230 281.8h0M274.5 232.2h0M338.9 191.4h0M237.5 181.9h0M210.8 253.3h0M287.5 237.8h0M307.8 227.9h0M287.8 170.2h0M307.1 136.5h0M290.2 285.2h0M301.4 211.2h0M252.4 281.7h0M352.5 225.1h0M223.1 260.6h0M232 183.7h0M306.8 151h0M303.8 247.5h0M350.4 152h0M282 279.9h0M206.5 254.9h0M304.6 253.8h0M271 140.8h0M322.4 236.5h0M264.4 242.3h0M255.7 265.4h0M328 244.9h0M193.7 253.9h0M329.4 243.5h0M262.4 149.8h0M278.1 279.6h0M255.8 270.7h0M322.3 192h0M231.5 195.3h0M249.8 207.4h0M217.8 213.3h0M338.5 174.3h0M282.6 292h0M300.4 153h0M266.1 298.1h0M325.6 244.1h0M261.8 232.3h0M337.1 152.2h0M298.4 197.8h0M250.2 212.3h0M243.5 255.8h0M198.5 258h0M365.7 224.7h0M290.1 225.9h0M292.3 211.5h0M292.6 284.6h0M254.2 191.2h0M301.3 258.4h0M304.3 163.8h0M300.8 255.6h0M219.8 248h0M325.1 250.4h0M304.2 182.3h0M273.8 204.7h0M334.4 173.3h0M291.5 140.2h0M212.6 275.6h0M292.9 148.7h0M203.3 246h0M326.7 156.1h0M199 275.6h0M233.3 216.4h0M231.9 265.3h0M283 187.6h0M251.4 178.8h0M295.1 214.3h0M216.3 268.1h0M238.1 225.9h0M231.6 191.1h0M334.7 246.2h0M338.4 250.2h0M209.1 277.7h0M369.1 217.4h0M249.5 178.1h0M319.1 153.7h0M244.4 200.2h0M302 277.7h0M234.5 260.8h0M313.8 240h0M359.6 224.2h0M299.7 144.4h0M244.5 226.1h0M260.2 158.2h0M269.5 252.9h0M259.5 192.3h0M303.7 189.8h0M234.4 217h0M296.2 192.4h0M268.2 239.1h0M298.1 137.7h0M273.8 197h0M262.4 220.2h0M277.8 272h0M313 153.2h0M285.3 151.9h0M261.8 172.8h0M340 210.5h0M267.5 159.7h0M210.2 263.7h0M243.4 276.2h0M340.6 193.1h0M219.4 236.2h0M285.7 273.8h0M347.7 239.5h0M275.1 207.7h0M289.6 148.2h0M312.2 153.2h0M257 216.1h0M241.9 266.1h0M300.9 223.7h0M259.7 190h0M313.3 192.1h0M326.1 233.3h0M278.2 257.6h0M332.4 190.4h0M306 140.3h0M267.7 179.2h0M315.8 237.5h0M219.1 215.2h0M268.9 146.2h0M289.1 150.8h0M310.1 190.1h0M317.3 280.8h0M292.4 205.8h0M355.3 209.8h0M270.6 214.8h0M339.1 216.3h0M260.9 201.8h0M313.8 145.5h0M271.7 175.4h0M264 149h0M302.3 164.3h0M202.4 228.6h0M281.2 156.6h0M308.1 227h0M290.5 143.2h0M309 199.2h0M238 196h0M327.1 141.6h0M338.1 243.3h0M201.1 254.1h0M293.5 154h0M309 271.1h0M342.6 239.9h0M355.8 225.2h0M230.5 195.5h0M313 215.1h0M312.5 282.7h0M227.6 187.6h0M279 203.9h0M273 188.3h0M270.9 186.7h0M222.4 255.9h0M266.8 240.5h0M263.5 156.7h0M312.5 272.3h0M295.9 209.2h0M341.8 229.4h0M268.5 279.8h0M237.3 208.3h0M244.7 178.8h0M289 214.7h0M292.2 162.5h0M353.7 231.4h0M221.4 253.4h0M307.2 189.3h0M247.3 260h0M327.6 172.6h0M347.3 178.8h0M204.2 267.1h0M278 184.9h0M243.4 176.1h0M279 198.9h0M282 173.2h0M319.1 168.4h0M282.3 137.6h0M216.8 224.8h0M276.4 225.7h0M314 135.8h0M343.4 212.6h0M285.6 149.9h0M350.2 212.9h0M333.4 189.5h0M265.1 174.6h0M309.8 214h0M302.1 155.5h0M304.2 207h0M203.7 216.2h0M234.5 250.8h0M296.5 178.5h0M203.4 215.6h0M296.4 183.1h0M296.7 183.2h0M280.4 165.5h0M235.9 209.5h0M274.4 207.6h0M260.6 210.3h0M244.9 202.1h0M322.3 243.6h0M342.3 247h0M294.3 214.3h0M316.5 197h0M367.3 205.2h0M262.5 275.2h0M214 196h0M269.9 282.9h0M233.9 268.8h0M261.8 161.5h0M291.4 135.6h0M352 204.5h0M295.7 256h0M250 199.6h0M240.8 202.8h0M263.9 283.8h0M349.3 218.9h0M256.1 278.8h0M215.3 232.9h0M215.7 236.1h0M238.1 201.7h0M302.1 258.3h0M317.6 189.9h0M331.6 217.5h0M273.2 290h0M246.4 212.6h0M311.3 160.1h0M274.5 260.9h0M252.7 183.2h0M309.1 171h0M262.1 169.8h0M225.2 218.5h0M291.1 265.3h0M320.3 182.9h0M282.4 155.8h0M355.5 161.9h0M311.4 176.8h0M308.5 225h0M228.9 240.5h0M264.9 188.3h0M310.6 253h0M267.9 148.6h0M318.8 220.4h0M283.4 150h0M252.5 243.6h0M335.8 220.6h0M303 276.7h0M224.3 200.6h0M257.2 261.8h0M217.6 193.9h0M286.7 136.5h0M283.1 284.5h0M325.2 141.1h0M345.6 190.8h0M260.4 169.3h0M246.8 283.9h0M349.4 239.5h0M287.9 226.7h0M325.1 240.4h0M273.7 219.8h0M285 213.6h0M289.9 280.5h0M235.1 250.4h0M232.3 283.9h0M240.1 234.8h0M267.5 224.2h0M264.7 231.3h0M256.8 222.1h0M300.1 290.2h0M302.5 268.8h0M334.4 162.6h0M303.4 238.9h0M289 188.3h0M311.9 152.8h0M282.4 139.8h0M192.7 262.1h0M304.6 207.4h0M286 244.9h0M323.7 153.6h0M338.3 195.4h0M206.2 222.7h0M327.1 144.4h0M347 147.6h0M262.6 191.7h0M223.2 236.5h0M252.9 260.9h0M317.7 168.8h0M286.6 167.3h0M263.5 244.7h0M301.2 196.8h0M355.7 228.2h0M347.6 199.9h0M205.7 257.7h0M331.2 139.9h0M301.2 236.4h0M284.5 225.9h0M294 245.4h0M238.3 242.2h0M262.6 182.6h0M349 221.8h0M320.9 221.9h0M318.6 237.1h0M203.3 254h0M273.1 223.8h0M303.5 255.8h0M233.6 271.9h0M305.1 272.6h0M250.4 213.5h0M314.5 264.4h0M282 146h0M274.5 225h0M293.9 133.2h0M234.6 253.1h0M275.6 143.6h0M329 169.1h0M245.9 281.2h0M259.4 155.5h0M305.6 165.3h0M353.6 234.7h0M265.6 247.2h0M356.5 206.6h0M251.1 225.8h0M349.3 237.5h0M309.6 154h0M276.8 287.2h0M262.3 216.7h0M290.1 149.4h0M256.5 224.1h0M328.2 143.6h0M257.1 200.6h0M306.9 133.7h0M334.8 241.2h0M268.9 253.6h0M261.8 167.5h0M288.6 147.6h0M321.7 262.3h0M348.7 199.5h0M317.4 257.4h0M356.2 219.7h0M337 208.7h0M299 211.8h0M328.7 167.1h0M253.6 184.7h0M269.2 158.5h0M317 236.3h0M343.7 223.7h0M305.5 234.8h0M296.9 176.6h0M292.8 158.5h0M265.4 227.1h0M305.7 280.6h0M312.4 157.3h0M314.8 146.8h0M290.7 282.7h0M270.2 185.1h0M330 235.5h0M228.3 266.7h0M223.8 239.5h0M246.9 209.3h0M265.3 161.1h0M307.1 227.5h0M204.5 231.7h0M279.6 153.4h0M331.1 189.1h0M314.2 254.4h0M346.8 167.3h0M305.5 231.2h0M297.5 180.2h0M278 189.5h0M276.6 226.9h0M226.7 277.4h0M300.5 268.5h0M244.2 267.9h0M345.4 227.4h0M305.5 167.8h0M255.3 279.2h0M346 233.5h0M221.6 276.3h0M303.4 152.9h0M286.9 264.6h0M351.5 204.9h0M322.9 217.7h0M290.2 263.9h0M232.7 261.3h0M207.5 271.1h0M313 242.7h0M332.6 192.4h0M335.3 221.2h0M362 207.6h0M250.2 196.6h0M196.8 276.3h0M267.5 152.4h0M213 251.7h0M339.3 195.6h0M241.1 172.1h0M326.6 169.5h0M224.5 184.5h0M314.7 172.9h0M338.9 179.1h0M289.4 179.3h0M269.7 229h0M263.6 268.4h0M250.1 275.3h0M271.2 164.5h0M252.7 201.7h0M269.9 230h0M313.7 267.1h0M257 167h0M324.8 270.9h0M248.2 232.4h0M290.9 249.1h0M314.1 202.2h0M259 186.2h0M253.9 203h0M241.6 260.3h0M283.5 268.7h0M345.4 244.7h0M308.4 187.9h0M265.8 156.2h0M316.5 133.5h0M233.7 270.9h0M311.1 245.1h0M229.6 284.5h0M238.9 221.2h0M278.6 169h0M246.4 257.7h0M321.1 263.5h0M233.6 245.7h0M232.7 243.9h0M279.8 287.7h0M267.2 208.8h0M245.9 207h0M239.1 264.3h0M339.5 193.2h0M252.3 276.4h0M367.1 226.4h0M262.3 190.5h0M266.2 238.6h0M357.8 232h0M288.8 158.5h0M237 179.7h0M326.5 234.9h0M356.1 204.8h0M340.1 183.5h0M258.6 263.4h0M262.4 293.5h0M205.6 256.4h0M250.8 243.9h0M329.9 154.6h0M276.6 295.1h0M301.8 255.8h0M286.5 134.9h0M270.6 176.7h0M290 255.3h0M264.9 272.2h0M294.3 190.9h0M279.3 190.2h0M359.1 227.5h0M328.8 250.2h0M296 142.3h0M365.1 221.8h0M224.7 246.6h0M349.5 152.9h0M247.4 254.6h0M289.8 201.1h0M283.7 265.4h0M257.3 249.6h0M293 165.3h0M242.2 272.1h0M349.1 239.4h0M232.1 253.6h0M212.8 240.3h0M332.6 209h0M307.6 242.8h0M261.7 202.7h0M279.3 274.6h0M250.3 224.8h0M285.9 283.7h0M220.8 284.5h0M297.9 203.2h0M303.9 134.8h0M249 166.4h0M241.7 205.3h0M265.3 243.3h0M211.7 251.9h0M210.9 234.2h0M252.6 248h0M239.4 224h0M291.8 192h0M239.8 265.8h0M287.6 249.1h0M239.3 178.7h0M313.4 214.2h0M225.6 214.5h0M348 215.6h0M245.8 278h0M261.7 212.7h0M307.5 222h0M284.5 163.8h0M263.4 282.7h0M305.7 153.1h0M231.1 200.5h0M245 282.3h0M241.5 171.3h0M231.9 181.5h0M288 256.7h0M270.3 148.3h0M253.5 248.8h0M287 260.3h0M222.8 187.5h0M363.5 225.2h0M232.5 227h0M329.4 211.9h0M208.3 265h0M319.1 207.4h0M369.8 210.7h0M252.5 264.3h0M260.8 151.8h0M290.1 192.9h0M319.3 205.7h0M312.6 289.9h0M253.5 161.1h0M236.4 265.9h0M272.2 227.5h0M247.1 174h0M202.6 214.5h0M321.9 257.6h0M281.8 149.8h0M295 250.7h0M226.2 234.3h0M288.7 134.4h0M303.9 205.1h0M250.6 255.2h0M329.9 159.3h0M216.7 238.4h0M282.3 268h0M204.9 264.8h0M245.4 232.5h0M321.9 232.7h0M215.8 251.4h0M311.3 208.4h0M282.7 180.3h0M304.8 279.6h0M272.3 141.3h0M199.1 246.7h0M320.5 155.7h0M214.8 247.1h0M275.7 160.7h0M224.3 265.2h0M319 140.4h0M211.9 214h0M345.8 215.2h0M282.7 160.3h0M255.5 226h0M272.3 180.6h0M298.9 148h0M279.9 256h0M331 220h0M327.3 188.4h0M258.9 205.2h0M275 225h0M278.1 154.4h0M204.6 234.8h0M210.7 267.5h0M311 235.1h0M281.6 273.8h0M231.7 190.6h0M287.2 252.7h0M314.8 173.7h0M317.3 158.8h0M345.9 181.2h0M260.2 222.4h0M235.9 286h0M262.8 195.2h0M320.9 240.5h0M249 175h0M317.9 151.8h0M343.6 174.5h0M342.7 215.6h0M279.9 250.3h0M239.2 235.2h0M218.1 252.5h0M262.8 172h0M321.1 193.1h0M279.5 189.8h0M211.4 263.3h0M235.4 218.6h0M318.2 188.5h0M295.2 219.1h0M272.3 230.1h0M314.2 134.7h0M296.9 219.1h0M312.2 276.1h0M255.4 255h0M202.5 220h0M359.4 229.4h0M299.3 140.5h0M331.1 197.1h0M259.9 181.9h0M315 184.3h0M353.9 205.6h0M240.8 187.7h0M332.2 207.2h0M293.3 150.8h0M268.5 218.5h0M328.2 147.1h0M329 256.1h0M351.9 215.2h0M298.5 209.8h0M335.7 169.8h0M272.2 216h0M239.5 275.9h0M270.2 218.4h0M211.3 249.7h0M342.5 242.3h0M254.9 199.3h0M229.7 259.9h0M260.9 174.5h0M271.4 224.3h0M265.8 297.4h0M314 166.6h0M307.3 160.2h0M250.9 199.4h0M293.8 260.2h0M227.6 182h0M230.9 198.8h0M250.7 198.9h0M232.2 282.4h0M236.1 176h0M313.3 265.5h0M351.4 230h0M341 179.4h0M325.1 168.9h0M207.5 259.4h0M296.5 234.6h0M298.3 163.8h0M286.3 212.9h0M214.5 206.3h0M299.9 206.6h0M297.5 206.4h0M324.4 136.9h0M298.2 237.4h0M273.6 275.6h0M320.7 157.8h0M328.2 205.3h0M302.5 222.9h0M264.3 201.7h0M235.6 253.6h0M280.6 240.5h0M248.5 282.2h0M247.6 227.2h0M325.5 204.1h0M230.1 264.9h0M311 249.2h0M216.5 204.2h0M217.9 250.1h0M247.3 165.3h0M259 241.3h0M308.1 289h0M347.2 185.4h0M214.9 238.9h0M288.1 166.4h0M260 284.2h0M223 284.6h0M241.1 242.7h0M266.5 226.8h0M244.3 221.4h0M230.9 272.6h0M256.4 209h0M238.7 278.7h0M304.2 132h0M311.3 167.7h0M326.5 260.4h0M290.9 260.1h0M342 167.8h0M301.5 210.3h0M352 218.1h0M273 187.4h0M251.4 157.1h0M198.4 279.7h0M261.7 151.7h0M281.5 245h0M292.9 156.6h0M279.7 145.5h0M260 213.7h0M260.8 239h0M340.3 232.5h0M242 167.6h0M266.4 212.1h0M292.2 137.7h0M336.8 216.7h0M312.3 161.4h0M235 202.6h0M283.1 146.4h0M242.8 202.1h0M248.4 285.8h0M287 284.9h0M314.4 290.1h0M295.1 290.6h0M313.4 295.5h0M265.7 304.5h0M294.6 286.6h0M289.5 291h0M277.6 305.3h0M276.8 296.9h0M265.7 310.2h0M278.3 305.1h0M294.5 307.9h0M289.6 308.6h0M303 297.7h0M276.5 293.5h0M300 292.5h0M296 287.7h0M271 290.2h0M293 302.4h0M305.8 303.4h0M301.9 303.5h0M281.7 300.2h0M311.4 278.9h0M286.9 304.9h0M315 289.7h0M284.3 283.8h0M268.8 288h0M262.2 318.5h0M278.3 319.3h0M268.4 302.9h0M268.9 317.9h0M297.8 284.5h0M266.7 293.9h0M264.6 306h0M299.3 294.3h0M292.9 310h0M278.9 292.2h0M264.6 317.9h0M305.8 294.1h0M276.2 300.6h0M288.9 285h0M289.5 308.8h0M261 292.1h0M270.3 288.9h0M269.3 308.5h0M289.5 288.4h0M291.5 300.9h0M288 307.3h0M261.3 312.5h0M286.2 312.1h0M287 293.7h0M292.9 306.5h0M311.3 288.4h0M270.3 289.7h0M277.6 300.8h0M272.9 301.1h0M274.1 287.2h0M269.3 310.4h0M289.1 290.5h0M281.2 293h0M293.4 302.8h0M271.6 317.9h0M276.9 292.6h0M285.6 316.9h0M290.6 319.6h0M287.5 292.3h0M273 299.4h0M268.5 302.9h0M292.1 321.7h0M263.7 312.2h0M269.5 288.6h0M291.9 290.9h0M265.2 312.8h0M271.8 316.2h0M307.9 282.2h0M316.6 281.9h0M279.3 287.6h0M284.7 305.1h0M268.2 307.1h0M303.7 300.1h0M286.7 310.1h0M285.6 291.2h0M283.7 286h0M265.5 308h0M263.7 304.3h0M283.1 283.3h0M286.7 305.3h0M277.6 285.2h0M271.7 319.9h0M279.9 315h0M307.6 298.6h0M273.9 301h0M290.3 296.4h0M273.9 290.4h0M266.2 294.8h0M270.1 306.7h0M272.6 319.7h0M280.1 292.1h0M293.3 280.8h0M315 282.1h0M282.2 285.2h0M313.1 294.4h0M304.5 305h0M265.7 315.9h0M303.7 284h0M273.5 310.2h0M285.5 319h0M291.3 310.6h0M267.8 304.6h0M279.7 299h0M295.2 291.2h0M278.2 302.8h0M298.3 286.8h0M293.2 300h0M286.2 303.3h0M284 293.1h0M289.5 294.6h0M284.3 287.9h0M270.9 283.3h0M286.8 298.1h0M268.7 315.4h0M281.5 283.5h0M264.6 318.1h0M268.3 312.2h0M304.7 284.9h0M269.5 302.4h0M302.8 288.3h0M293.7 287.1h0M281.5 286h0M305.8 291.7h0M302.3 290.5h0M283.3 314.6h0M272 307.1h0M294.6 314.6h0M273.1 313.9h0M311.8 295.7h0M295.1 285.4h0M312.4 295.2h0M279.2 291.9h0M301.5 302.4h0M278.9 294.9h0M268.4 315.2h0M291 302.9h0M262.5 294.1h0M272.5 301.1h0M263.6 284.8h0M276.2 309.5h0M295.3 315.6h0M294.2 290.8h0M269.7 313.1h0M304.8 304.5h0M261.4 295.8h0M261.7 302.1h0M302.8 306.8h0M300 301.1h0M290.4 306.6h0M296.7 288.8h0M269.7 314.7h0M289.6 301.9h0M266.9 300h0M285.6 288h0M285.2 295.6h0M262 296.8h0M288.3 283.1h0M267 314.7h0M291.7 283.8h0M262 285.8h0M280.7 318.1h0M270.3 315.8h0M293.4 314.6h0M272.1 300.9h0M262 289.4h0M271 286.2h0M281.6 293.6h0M302.9 292.8h0M296.3 282.9h0M266.2 285.9h0M288.4 296.9h0M298.7 287.1h0M274.6 320h0M262 318.6h0M285.8 294.3h0M285.9 283.5h0M294.3 307.9h0M274.3 316.5h0M295.3 314h0M291.9 299.2h0M296.5 282.3h0M277.3 287.1h0M261.7 308h0M271.7 289.6h0M289.6 301.4h0M261.7 295.7h0M276.7 312.1h0M276.2 303.6h0M301.2 298.8h0M301.1 304.8h0M268.9 312h0M299.9 310.4h0M293.6 302.3h0M263.4 321.2h0M281.6 290.2h0M279.5 296.4h0M279.1 300.8h0M313.6 287.8h0M298.8 292.1h0M277.2 308.6h0M272.2 286.2h0M285.4 287.3h0M280.4 308.2h0M270.2 316.6h0M312.1 282h0M288.9 297.4h0M271.3 290h0M279.1 314.2h0M276.2 283.6h0M301.5 300.7h0M288 310.5h0M281.2 322h0M316.2 284.3h0M277.1 317.8h0M307.9 285.6h0M283.3 310.8h0M301.2 304.4h0M267 292.1h0M309.5 295.7h0M306 279.6h0M263 315h0M304.1 291.4h0M294.6 317.8h0M290.2 311.5h0M286.6 298.6h0M285.4 303.6h0M261.9 309.6h0M288.2 289.7h0M281 299.2h0M275.2 302.6h0M279 310.6h0M280.1 292.5h0M281.7 328.3h0M286.4 328.7h0M262.6 333.6h0M270 334.1h0M285.7 323.6h0M266.6 347.2h0M276.6 322.6h0M274.9 338.2h0M276.4 345.5h0M284.2 323.5h0M266.8 345.1h0M276.5 333.7h0M261.7 337.5h0M277.5 329.2h0M287.5 324.5h0M278.9 334.7h0M279.8 329.6h0M259.5 334h0M266.3 336.6h0M281.8 337.3h0M268.1 333.9h0M276.9 333.6h0M263 324.1h0M287.3 327.3h0M262.6 347.1h0M270.7 323.6h0M259.6 332.3h0M270.3 338.5h0M277.9 344.9h0M262.8 329.7h0M263.5 325.3h0M278.7 334.8h0M277.8 339h0M275.8 322.1h0M276.1 331.6h0M269.3 327.1h0M286.6 326.4h0M264.5 333.9h0M268.2 339.5h0M270.7 343.1h0M274 325h0M279.6 333h0M277.7 330.5h0M262.3 322.2h0M274.3 325.9h0M277.6 333.8h0M264.2 346.1h0M282.8 331.8h0M273.5 332.1h0M279 336.9h0M276.3 330.4h0M266 337.3h0M261.1 326.7h0M214.8 212.1h0M206 262h0M215.6 259.1h0M205.2 264.3h0M203.7 275.8h0M227.3 285.6h0M232.7 204.3h0M204.5 243.7h0M210.9 231.1h0M251.6 272h0M239.8 278.5h0M202.4 272.1h0M219.8 250.4h0M226.5 267.1h0M227.2 284.7h0M205.8 281h0M221.6 281.7h0M199.1 260.5h0M212.5 270.3h0M244.3 269h0M246 287.3h0M256.7 274.8h0M257.1 277.4h0M235.8 283.5h0M205.4 268.5h0M203.2 253.3h0M203.4 222.7h0M237.3 289.2h0M220.7 201.9h0M201.7 248h0M218.6 234.3h0M227.7 274.5h0M249.2 283.1h0M203.1 239.3h0M203 276.5h0M198.6 244.7h0M213.3 221.9h0M225.1 210.8h0M195.4 263.4h0M231.8 287.7h0M216.7 213.9h0M209.4 210.9h0M203.5 275.8h0M195.7 250.3h0M222.8 245.7h0M248 280.2h0M251.5 268.6h0M260.8 275.1h0M209 235.2h0M231.7 280.9h0M223.2 264.4h0M252.2 267.4h0M211.1 232.1h0M219 197.1h0M202.3 226.9h0M218.9 220.9h0M220.9 228.8h0M200.1 254.6h0M220.7 282h0M216.1 254h0M251.1 277.4h0M220 240h0M215.1 210.4h0M218.5 238.6h0M217.7 203.3h0M254.6 283.6h0M206.1 219h0M251.8 272.9h0M237.3 282.7h0M218.3 251.4h0M195.9 268.4h0M216.7 262.6h0M223.7 205.5h0M211.4 225.6h0M206.6 279.7h0M243.3 274.2h0M222.6 284.4h0M217.9 270h0M223.6 264.5h0M230.5 262.8h0M221 225.7h0M245.2 276.8h0M230.5 200.2h0M219.7 285.3h0M219.4 223.8h0M197.4 263.9h0M209.6 281h0M216.7 231.3h0M224.2 199.5h0M205.6 224h0M228.6 206.4h0M209.5 234.2h0M226 194.1h0M240.3 281.7h0M204.6 279.4h0M208.8 220h0M235 267.2h0M205.4 252.1h0M254.7 281h0M213.1 281.1h0M262.3 270.7h0M222.2 284.2h0M216.5 219.3h0M199.8 268.4h0M240.7 270.7h0M208.3 276.1h0M218.3 282.4h0M259.7 279h0M225.5 268.5h0M227.1 273.4h0M212.6 231.4h0M226 202.1h0M216.1 202.9h0M216.2 254.3h0M196.1 251h0M220.8 223.4h0M201.9 246.7h0M249.7 268.7h0M223.9 248.5h0M224 250.3h0M253.8 287h0M245.2 273.8h0M205.9 273.7h0M193.6 267.7h0M249.8 287.6h0M246 272.9h0M204.7 238.6h0M244.2 279h0M204.8 220.6h0M208.9 251.8h0M217.6 240.9h0M239.6 286h0M204.2 222.8h0M217.9 268.1h0M214.4 272.8h0M245.7 267h0M199.7 262.8h0M225.4 207.5h0M247.1 287.8h0M208.2 251.5h0M209.4 278.7h0M240.5 288.4h0M215.1 261.5h0M194.8 262.8h0M219.5 212.2h0M251.8 275.9h0M222.5 286.7h0M206.2 247h0M232.8 282.5h0M212.2 283.9h0M261.2 287.2h0M217.1 206.1h0M256 267h0M215.2 265.7h0M200.4 252.3h0M255.8 269.4h0M222.2 270.2h0M215.8 250.4h0M212.6 206.9h0M246 283.8h0M208.8 266.3h0M213.5 252.4h0M229.7 282.2h0M203.5 244.5h0M209.7 233.2h0M200.6 267.8h0M219.2 244.8h0M223.5 203.4h0M219.7 267h0M238.4 284.1h0M174.6 260.1h0M191.7 239.8h0M188.1 265.7h0M196.2 266.9h0M171.7 261.6h0M192.6 273.1h0M178.6 277.4h0M170.8 273.3h0M185.9 254.4h0M174.1 267.1h0M191.4 259.2h0M186.4 268.7h0M176.3 250.4h0M180.2 257.3h0M190.4 253.3h0M188.9 261.1h0M174 256.8h0M174.2 260h0M193.4 257.9h0M174.5 254.7h0M181.8 256.1h0M191.9 258.5h0M224.4 232.8h0M260 218.5h0M262.3 251.2h0M244 191.9h0M244.9 243.2h0M267 237.6h0M230.1 217.9h0M261.8 232.5h0M270.8 283.4h0M268.6 276.6h0M258.6 190h0M232.7 230.1h0M270.9 282.4h0M247.1 244.1h0M265.2 245.4h0M225.1 222.2h0M248.3 194.7h0M251 253.9h0M225.3 236.8h0M257.4 184.9h0M266.5 240.9h0M236.7 242.2h0M251.5 193.3h0M276.9 156.5h0M266.9 255h0M248.2 235.7h0M272.6 157.3h0M266.3 235.8h0M288.3 144.8h0M237.1 239.3h0M246.2 264.1h0M221.9 213.1h0M267.5 257.1h0M233 259.2h0M253.8 209.1h0M265.1 251.8h0M245.2 242.2h0M246.9 200.6h0M269.8 255.7h0M234 256.9h0M254.7 189.5h0M253.1 203.2h0M254.8 237.5h0M249.5 266.3h0M255.5 218.6h0M263.5 266.1h0M243.3 239.1h0M238.6 205.1h0M255.8 245.9h0M224.8 243.6h0M266.8 173.2h0M246.6 217.6h0M257 219.6h0M229.9 230.3h0M280.5 147.5h0M268.7 172.2h0M257.3 225.4h0M262.2 234.1h0M252.8 199.4h0M257.7 243.8h0M244.3 229.2h0M241.8 231.9h0M239 204.4h0M245.5 219.9h0M261.2 223.8h0M250.6 241.7h0M253.6 209.5h0M275.6 157.5h0M244.5 201.4h0M247.4 191.6h0M245.3 216.9h0M251.2 212.7h0M226.3 212.6h0M233 250.6h0M261.5 230.5h0M250.9 260h0M236.6 209.3h0M229.7 230.5h0M248.7 217.5h0M246.3 218.2h0M245.3 256.2h0M267.6 172.4h0M256.7 191.4h0M231.1 234.6h0M225.2 230.4h0M258.2 212.9h0M240.5 217.7h0M263.4 176h0M230.3 247.1h0M272.6 155.8h0M265 255.8h0M261.8 253.2h0M251.4 227.4h0M222.2 214.2h0M254.5 198.1h0M262.1 169.2h0M257.1 246.5h0M270.8 281.8h0M236.9 208.4h0M227.2 256.4h0M265.1 279.6h0M220.9 213.9h0M244.3 237.2h0M239.4 257.6h0M232.1 247.8h0M225.5 214.4h0M263.9 269.4h0M286.4 148.3h0M237 199.7h0M254.6 229.2h0M256.2 257.1h0M252.6 196.6h0M240.2 261.5h0M251.1 198.5h0M244 230.7h0M231.6 246.5h0M270.1 247.9h0M256.2 215h0M247.3 230.8h0M222.9 219.2h0M226.9 218.9h0M227.1 236.4h0M246.6 211.6h0M235.2 260h0M225.8 234.9h0M238.5 252.3h0M232.9 218.1h0M249.6 194.8h0M255.2 258.3h0M250.2 212.2h0M257.6 231.3h0M246.9 193.2h0M255.2 212.2h0M264.1 233.8h0M244.9 200.1h0M262.9 166.7h0M241.3 204.5h0M235.8 228.3h0M245.7 250.5h0M239.7 222.8h0M228.8 252.3h0M265.3 235.8h0M250.8 257.2h0M245.9 190.2h0M273.1 157.7h0M263.1 240.4h0M261.6 237.3h0M242.2 245.9h0M282.3 154.4h0M248.5 256.3h0M266.1 236.9h0M255.1 219.4h0M279.7 151.1h0M255.1 219.8h0M248.8 230h0M268.8 162h0M235.9 215.7h0M259.6 187.7h0M242.8 241.2h0M259.2 250.5h0M288.1 146.8h0M232.7 227.6h0M253.3 206h0M260.3 173.2h0M230.6 212.1h0M225.1 232.9h0M226.4 244.8h0M244.2 202.2h0M259 245.7h0M261.9 166.8h0M273.2 268.2h0M248.2 258.2h0M257.8 247h0M255.6 173.9h0M243.6 250.9h0M236.8 255.4h0M257.9 234.4h0M238.6 203.9h0M227.5 210.7h0M231 220.3h0M231.1 207.7h0M223.3 212.4h0M241.8 193.5h0M258.1 192.6h0M250.6 231.2h0M251.8 244.4h0M255.9 227.6h0M269.4 242.3h0M257.9 224.7h0M250.8 215.6h0M263.5 261.1h0M224.2 218.4h0M247.4 246.9h0M266.7 281.6h0M267.5 248.4h0M256.9 232.5h0M249.7 199.6h0M244.9 187.1h0M267.6 161.6h0M261.8 241.1h0M253.9 224.1h0M249.6 202h0M233.1 222.9h0M260.7 168.4h0M250.3 196.9h0M244.9 192.9h0M254.9 240.8h0M261.9 183h0M248.4 245h0M244.2 240.2h0M226.5 211.7h0M271.4 258.5h0M240.4 206h0M231.7 244.6h0M248.9 184.6h0M247.4 253.1h0M256.3 232.8h0M241.3 257.8h0M241.3 248.8h0M249.1 263.7h0M268.8 159.3h0M260.8 246.4h0M242.3 228.8h0M247.5 260.7h0M273 162.4h0M249.5 230.7h0M254.2 204.4h0M268.3 168.2h0M274.7 151.7h0M265.8 278.6h0M253 175.4h0M221.9 216.4h0M253.7 253.6h0M221.7 212.3h0M249.3 214.1h0M253.5 225h0M241.1 251h0M227.9 255.8h0M284.2 146.5h0M235.1 257.1h0M282.4 149.9h0M244.4 216.1h0M252.1 263.6h0M249.3 229h0M250.8 180.7h0M263.4 236.3h0M235.8 218h0M226.6 210.4h0M228.3 238.1h0M244.2 203.8h0M243.5 255.8h0M254.3 200h0M221.1 221.9h0M252.2 233.8h0M239.6 203.1h0M245.4 262.1h0M256.7 242h0M259.8 174.4h0M237 260.7h0M231.8 223.4h0M243.8 260.3h0M251.2 204h0M259.1 223.3h0M248.6 264.9h0M250.7 189.7h0M235.8 251.6h0M249 214.1h0M241.1 281.5h0M230.8 269h0M231.6 254.9h0M176.9 252.6h0M253.5 286.3h0M236.5 259.9h0M231.4 259.8h0M256.1 273h0M201.7 254.2h0M209.6 273.5h0M202.6 237.6h0M212.8 258.7h0M194.9 257.8h0M218.7 258.1h0M219.6 268.1h0M186.3 251h0M195.9 285.9h0M233.8 278.6h0M198.7 287h0M207.6 250.3h0M178.4 283.5h0M228.4 289h0M209.5 258.9h0M255.2 292.4h0M222.5 278.7h0M223.7 248.6h0M239.2 278.7h0M198.7 295.2h0M224.7 254.1h0M176.9 256.3h0M204.9 253.5h0M229.1 290.9h0M238.2 262h0M232.6 256.1h0M168.1 257.7h0M211.1 296.4h0M203 239.2h0M237.4 276.7h0M217.2 263.3h0M234.3 280.9h0M241.7 273.8h0M188.3 265.5h0M196.9 283.5h0M227 275.4h0M191.4 284.8h0M247.2 272.1h0M170.4 252.4h0M189.4 284.5h0M173.4 279.9h0M223.4 288h0M196.8 242h0M199.1 292.3h0M260.6 273.8h0M178.1 283.6h0M221.6 297.7h0M196.1 250.4h0M179.3 250.3h0M173.8 276h0M179 268.2h0M197.8 257h0M208.2 280.7h0M197.4 273.4h0M251.5 279.1h0M258.1 289.8h0M196.6 268.8h0M182.8 262.6h0M189.7 286.4h0M249.9 280.1h0M246.1 269.1h0M228.4 279.4h0M235.1 296.1h0M177.8 283.4h0M191.2 287.1h0M225.6 291.6h0M219.8 267.4h0M199.4 270.1h0M244.8 268.8h0M205.4 284.2h0M212.5 276.1h0M220.1 271.1h0M179.9 262.2h0M165.7 251.4h0M221.6 248.6h0M201 245.4h0M203.2 246.1h0M215.7 292.2h0M204.2 250.4h0M226.4 249.9h0" fill="none" stroke="#000" stroke-width="5.30" stroke-linecap="round"/><path d="M193.4 50.1h0M245.5 88.1h0M368.7 65.3h0M391.7 70.3h0M408.7 74.6h0M371.9 80.9h0M395.5 83.9h0M390.5 89.4h0M388.2 92.6h0M386.9 99.4h0M394.5 99.4h0M323.1 96.9h0M323.9 101.4h0M356.7 104.6h0M358.7 108.1h0M360.4 111.9h0M362.9 113.2h0M357.9 116.9h0M360.4 119.4h0M359.2 122.7h0M375.4 108.1h0M381.2 107.6h0M378.2 111.1h0M402 103.9h0M405 105.1h0M408.7 103.9h0M421.2 102.6h0M401.2 111.1h0M415.5 109.4h0M394.5 118.2h0M397 119.4h0M408.7 123.2h0M413.7 122.7h0M415.5 125.2h0M337.9 124.7h0M344.1 132.2h0M356.2 131.9h0M384.4 131.9h0M410.5 132.7h0M391.2 135.2h0M396.2 134.4h0M374.9 140.9h0M377.9 140.2h0M383.7 137.7h0M390 138.9h0M395 141.4h0M401.2 140.2h0M416.2 136.4h0M420 137.7h0M411.2 138.9h0M279.3 144.4h0M346.1 145.2h0M398.7 145.2h0M403.7 145.2h0M415 142.7h0M418.7 143.9h0M428.8 60.1h0M427.8 65.1h0M425.8 91.4h0M440.8 93.4h0M432.8 96.9h0M453.3 94.6h0M460.3 102.1h0M468.8 101.6h0M462.8 112.1h0M472.1 110.1h0M424.5 117.2h0M443.8 118.9h0M447 122.7h0M452.5 121.4h0M456.3 122.2h0M466.3 121.4h0M422 123.2h0M431.3 126.7h0M460.3 125.7h0M443.3 128.2h0M446.3 127.2h0M458.8 130.2h0M467.1 128.2h0M432 131.4h0M444.5 132.7h0M455.8 132.7h0M467.1 131.9h0M424.5 136.4h0M429.5 135.2h0M433.8 135.9h0M437 137.7h0M422 139.7h0M427 140.2h0M433.3 139.7h0M444.5 136.4h0M449.5 137.7h0M459.6 135.2h0M457.1 140.2h0M471.3 135.9h0M485.3 137.7h0M473.8 139.7h0M494.6 140.9h0M468.8 141.4h0M483.3 142.2h0M439.5 144.4h0M468.3 145.2h0M475.8 145.2h0M490.9 146.4h0M454.5 147h0M484.6 147h0M212.7 188.3h0M236.5 211.3h0M237.2 219.6h0M229.7 224.6h0M210.2 226.4h0M241 228.4h0M249.5 228.9h0M239.5 236.6h0M201.4 238.4h0M216.4 239.1h0M219 245.9h0M220.2 247.9h0M230.2 244.1h0M241 242.1h0M249.5 241.6h0M230.2 255.2h0M193.9 263.4h0M210.9 269.7h0M222 277.2h0M211.9 279.7h0M305.3 149.5h0M317.3 148.3h0M294.8 157.8h0M264 162h0M309.3 193.3h0M264.8 200.1h0M271 200.6h0M262.8 215.6h0M261 226.4h0M252.3 234.1h0M251 241.6h0M364.9 148.3h0M371.2 150.8h0M374.9 153.3h0M378.7 152h0M386.2 149.5h0M356.2 154.5h0M367.9 160.8h0M364.9 164.5h0M372.4 172h0M378.7 168.3h0M383.7 163.3h0M390.5 160.8h0M395 158.3h0M398.7 155.8h0M402.5 155.8h0M401.2 148.3h0M409.5 152h0M417.5 150.8h0M421.2 152h0M398.2 165h0M393.7 173.3h0M388.2 177.5h0M401.2 179.5h0M407.5 179.5h0M412.5 168.3h0M415 177h0M418.7 170.8h0M421.2 172h0M416.2 183.3h0M418.7 180.8h0M413.7 188.3h0M415 193.3h0M421.2 192.1h0M390.5 206.3h0M415.5 214.6h0M435.8 149.5h0M443.3 149.5h0M447 150.8h0M454.5 149h0M459.6 150h0M463.3 152h0M468.3 148.3h0M429.5 154.5h0M433.3 157h0M438.3 155.8h0M439.5 159.5h0M444.5 160.8h0M479.6 157h0M477.1 158.3h0M487.6 154.5h0M508.4 156.3h0M423.3 165h0M432 165.8h0M435.8 170.8h0M443.3 169.5h0M448.3 167h0M457.1 167.5h0M463.3 169.5h0M473.3 171.3h0M481.3 165h0M482.1 170.8h0M508.4 172.8h0M428.3 172h0M427 178.3h0M440.8 175.8h0M454.5 173.3h0M459.6 179.5h0M468.3 179.5h0M475.8 174.5h0M474.6 178.3h0M483.3 177h0M452 182.1h0M444.5 180.8h0M435.8 185.8h0M442 184.6h0M453.3 185.8h0M462.1 183.3h0M467.1 184.6h0M470.8 182.1h0M468.3 187.1h0M477.1 183.3h0M494.6 184.6h0M498.4 185.8h0M490.9 187.1h0M507.1 185.8h0M515.9 179.5h0M519.6 178.3h0M517.1 185.8h0M519.6 188.3h0M536.4 179h0M507.1 189.6h0M422 190.1h0M430.8 189.6h0M437 191.6h0M455.8 189.6h0M459.6 188.3h0M463.3 190.8h0M469.6 192.1h0M475.8 189.6h0M478.3 188.3h0M482.1 192.1h0M480.8 195.8h0M488.3 193.3h0M495.9 195.8h0M497.1 193.3h0M509.6 192.1h0M536.4 190.3h0M563.5 191.6h0M435.8 195.8h0M457.1 195.8h0M462.1 194.6h0M467.1 195.8h0M468.3 198.3h0M427.5 198.3h0M449.5 199.6h0M463.3 200.8h0M458.3 200.8h0M472.1 197.1h0M475.8 197.1h0M489.6 198.3h0M488.3 202.1h0M495.9 199.6h0M507.1 200.8h0M508.4 204.6h0M510.9 202.1h0M513.4 200.8h0M520.9 199.6h0M524.7 199.6h0M529.7 203.3h0M532.2 204.6h0M540.9 203.3h0M543.4 205.8h0M519.6 205.8h0M440.8 204.6h0M452 204.6h0M453.3 208.3h0M450.8 207.1h0M459.6 207.1h0M448.3 209.6h0M480.8 207.8h0M492.1 205.8h0M493.4 209.6h0M439.5 213.3h0M435.8 216.6h0M464.6 213.3h0M469.6 212.1h0M472.1 213.3h0M477.1 214.1h0M483.3 213.3h0M484.6 215.9h0M483.3 219.6h0M494.6 213.3h0M500.9 214.6h0M510.9 214.6h0M522.1 213.3h0M524.7 214.6h0M518.4 215.9h0M535.9 210.8h0M538.4 213.3h0M540.9 214.6h0M544.7 213.3h0M549.7 213.3h0M557.2 214.6h0M559.7 215.9h0M579.2 212.1h0M460.8 218.4h0M463.3 220.9h0M470.8 220.9h0M512.1 218.4h0M520.9 219.6h0M525.9 222.1h0M532.2 217.1h0M542.2 218.4h0M544.7 220.9h0M549.7 219.6h0M552.2 218.4h0M558.4 222.1h0M572.2 219.6h0M576 220.9h0M571 222.1h0M497.1 220.9h0M502.1 219.6h0M505.9 222.1h0M463.3 223.4h0M469.6 224.1h0M475.8 223.4h0M493.4 225.9h0M497.1 224.6h0M499.6 223.4h0M503.4 224.6h0M507.1 225.9h0M502.1 228.4h0M499.6 229.6h0M495.9 228.4h0M488.3 227.9h0M459.6 229.1h0M473.3 229.6h0M482.1 233.4h0M490.9 232.1h0M497.1 233.4h0M507.1 230.9h0M510.9 233.4h0M518.4 222.1h0M518.4 225.9h0M520.9 227.1h0M524.7 224.6h0M530.9 223.4h0M532.2 227.1h0M534.7 229.6h0M527.2 232.1h0M528.4 234.6h0M538.4 227.1h0M544.7 225.9h0M545.9 228.4h0M549.7 227.1h0M552.2 224.6h0M557.2 225.9h0M548.4 230.9h0M550.9 232.1h0M567.2 228.4h0M568.5 232.1h0M582.2 224.6h0M584.7 228.4h0M589.7 229.6h0M592.2 227.1h0M574.7 232.1h0M561 234.6h0M591 233.4h0M454.5 233.4h0M452 234.6h0M448.3 233.4h0M445.8 236.6h0M450.8 237.1h0M454.5 239.6h0M472.1 237.1h0M489.6 239.6h0M494.6 238.4h0M499.6 240.1h0M503.4 239.1h0M507.1 240.9h0M512.1 235.9h0M513.4 233.4h0M517.1 237.1h0M523.4 239.6h0M532.2 235.9h0M534.7 237.1h0M539.7 235.9h0M543.4 237.1h0M545.9 233.4h0M530.9 238.4h0M532.2 242.1h0M538.4 242.1h0M561 237.1h0M559.7 240.9h0M564.7 243.4h0M482.1 242.1h0M465.8 243.4h0M468.3 245.9h0M498.4 243.4h0M504.6 244.6h0M517.1 243.4h0M522.1 244.6h0M518.4 247.1h0M540.9 245.9h0M544.7 245.9h0M553.4 247.1h0M566 247.1h0M586 247.1h0M589.7 245.9h0M592.2 247.1h0M467.1 247.1h0M474.6 252.2h0M472.1 254.7h0M495.9 249.7h0M502.1 253.4h0M508.4 250.9h0M513.4 250.9h0M512.1 254.7h0M518.4 249.7h0M535.9 249.7h0M558.4 252.2h0M572.2 250.9h0M589.7 253.4h0M559.7 257.2h0M558.4 255.9h0M550.9 258.9h0M489.6 259.7h0M508.4 262.9h0M519.6 264.2h0M509.6 271.4h0M537.2 269.7h0M540.9 274.7h0M550.9 270.4h0M529.7 275.9h0M534.7 278.4h0M559.7 272.2h0M559.7 277.2h0M558.4 279.7h0M569.7 263.4h0M572.2 262.2h0M587.2 273.4h0M582.2 278.4h0M572.2 282.2h0M576 282.2h0M592.2 282.2h0M529.7 282.2h0M607.1 226.6h0M615.4 228.9h0M611.1 243.4h0M610.4 249.1h0M608.6 250.2h0M621.7 258.9h0M596.6 258.4h0M600.4 259.2h0M597.9 235.9h0M599.1 239.6h0M595.4 232.1h0M594.1 229.6h0M596.6 267.2h0M600.4 268.4h0M604.1 269.7h0M607.9 267.2h0M611.6 264.7h0M614.1 265.9h0M594.1 273.4h0M595.4 275.9h0M600.4 274.7h0M605.4 272.2h0M609.1 275.9h0M614.1 275.9h0M617.9 273.4h0M620.4 275.9h0M601.6 278.4h0M599.1 280.9h0M594.1 282.2h0M602.9 282.2h0M244.5 289h0M243.2 298.3h0M511.6 289h0M515.9 287.3h0M517.1 291.5h0M525.9 289.5h0M529.7 284h0M540.2 289.8h0M535.2 295.3h0M536.7 297.8h0M534.7 301.5h0M539.7 301.5h0M535.9 306.5h0M538.9 307.3h0M551.7 292.8h0M551.4 296.5h0M547.9 298.3h0M553.4 302.8h0M549.7 305.3h0M553.4 307h0M559.7 289.5h0M564.2 288.3h0M562.2 294h0M569.2 295.3h0M568 303.5h0M572.2 287h0M576 284h0M584 291.5h0M588.5 285.3h0M592.2 287.8h0M578.5 304.8h0M579 310.3h0M584.2 299.8h0M583.5 302.8h0M589.7 300.3h0M587.2 304h0M591.7 304.8h0M567.2 317.8h0M561 319.1h0M561 322.8h0M554.2 328.1h0M579.7 323.3h0M578.5 325.3h0M588.5 317.3h0M594.1 286.5h0M594.6 290.3h0M599.1 292.8h0M599.1 296.5h0M600.4 285.3h0M603.6 287h0M617.9 312h0M654.2 323.3h0M230.3 461.8h0M379.8 145.1h0M373.4 153.9h0M396.8 144.6h0M413.2 145.1h0M417.3 147.5h0M401.5 153.9h0M399.1 157.4h0M407.3 160.4h0M405.6 164.4h0M420.2 169.1h0M410.8 173.2h0M417.3 141.6h0M411.9 126.7h0M399.9 138.5h0M422.4 136.1h0M418.2 142h0M444.5 128.8h0M461.6 133h0M446.2 138.3h0M457.5 142.5h0M465.6 142.3h0M483.1 144.2h0M439.5 142.1h0M474.1 141.7h0M487.7 145.9h0M404.9 155.2h0M400.4 151.6h0M408.3 149.9h0M422.7 155.2h0M394.8 163.9h0M421 180.7h0M417 192.9h0M437.4 147.2h0M446.8 148.8h0M465.7 152h0M430.6 158.7h0M437.3 161h0M478 154.3h0M447.4 169h0M453.2 167.9h0M481.4 178.5h0M473.7 183.2h0M474.1 184.9h0M501.4 184.8h0M423.4 187.9h0M439.7 193h0M469.3 194.1h0M483.2 194.9h0M497.9 195h0M446.4 199.3h0M464.2 197.8h0M473.1 199h0M498.8 201.9h0M508.7 204.4h0M511.8 199.3h0M457.1 208.4h0M450 207.8h0M463 210.4h0M472 211.1h0M480.2 214.9h0M540.3 216.9h0M521.1 223.4h0M552.8 216.3h0M502.8 222.9h0M508.2 221.9h0M471.5 221.8h0M496.4 226.9h0M504.2 230.9h0M489 230.5h0M499.3 234.8h0M526.5 222.8h0M540.5 228.6h0M556.5 222.7h0M545.2 229.6h0M566.2 231.5h0M591.5 232.6h0M560.1 237.8h0M455.7 233.4h0M488.3 242.9h0M518.8 234.6h0M539.6 232.4h0M528.9 241.3h0M561.8 233.5h0M498.4 241.2h0M520 243.7h0M522.5 247.1h0M555.2 244.9h0M505.6 251.1h0M558.9 248.9h0M562.1 256.1h0M527.3 279.1h0M534.6 281.9h0M588.7 275.9h0M574.2 283.7h0M530.9 280.5h0M594.5 258.7h0M597.2 238.2h0M602.1 270.3h0M596.9 272.3h0M603.4 276.3h0M599.1 277.7h0M597.4 282.3h0M534.9 298.4h0M535 302.9h0M552.3 298.5h0M550 298.1h0M555.2 303.9h0M550.6 302.8h0M593.2 285.2h0M580.5 301.2h0M589.4 303.1h0M595.4 292.3h0M599.1 287.5h0M394.6 143.2h0M414.5 145.5h0M401.5 156.4h0" fill="none" stroke="#999" stroke-width="5.30" stroke-linecap="round"/><path d="M383.9 165h0M391.5 148.3h0M393.3 150.6h0M392.7 171.5h0M393.3 180.8h0M400.3 180.2h0M406.1 177.9h0M390.4 161.5h0M374 143.4h0" fill="none" stroke="#000" stroke-width="5.30" stroke-linecap="round"/><g stroke="#1a1a1a" stroke-width="1.45" fill="none"><rect x="79.4" y="13.5" width="591.8" height="461.4"/><line x1="79.4" y1="474.9" x2="79.4" y2="481.8"/><line x1="197.8" y1="474.9" x2="197.8" y2="481.8"/><line x1="316.1" y1="474.9" x2="316.1" y2="481.8"/><line x1="434.5" y1="474.9" x2="434.5" y2="481.8"/><line x1="552.8" y1="474.9" x2="552.8" y2="481.8"/><line x1="671.2" y1="474.9" x2="671.2" y2="481.8"/><line x1="72.4" y1="474.9" x2="79.4" y2="474.9"/><line x1="72.4" y1="382.6" x2="79.4" y2="382.6"/><line x1="72.4" y1="290.3" x2="79.4" y2="290.3"/><line x1="72.4" y1="198.1" x2="79.4" y2="198.1"/><line x1="72.4" y1="105.8" x2="79.4" y2="105.8"/><line x1="72.4" y1="13.5" x2="79.4" y2="13.5"/></g><g font-family="'Liberation Sans', sans-serif" fill="#111" stroke="#111" stroke-width="0.3" font-size="26px"><text x="78.4" y="503.7" text-anchor="middle">30</text><text x="197.6" y="503.7" text-anchor="middle">40</text><text x="315.5" y="503.7" text-anchor="middle">50</text><text x="432.6" y="503.7" text-anchor="middle">60</text><text x="554.3" y="503.7" text-anchor="middle">70</text><text x="670.2" y="503.7" text-anchor="middle">80</text><text x="70.4" y="480.1" text-anchor="end">0</text><text x="70.4" y="390.2" text-anchor="end">5</text><text x="70.4" y="296.3" text-anchor="end">10</text><text x="70.4" y="206.2" text-anchor="end">15</text><text x="70.4" y="113.0" text-anchor="end">20</text><text x="70.4" y="20.5" text-anchor="end">25</text><text x="374.3" y="534.3" text-anchor="middle" font-size="28.5px">SiO<tspan font-size="19px" dy="6.5">2</tspan><tspan dy="-6.5" dx="-1.8"> (wt%)</tspan></text><text transform="translate(23.6,236.2) rotate(-90)" text-anchor="middle" font-size="28.5px">Al<tspan font-size="19px" dy="6.5">2</tspan><tspan dy="-6.5">O</tspan><tspan font-size="19px" dy="6.5">3</tspan><tspan dy="-6.5" dx="-1.8"> (wt%)</tspan></text><circle cx="544.9" cy="439.7" r="6.3" fill="#000"/><circle cx="544.9" cy="461.2" r="6.3" fill="#8c8c8c"/><text x="554.2" y="447.8" font-size="22.4px">Group 1<tspan font-size="13.8px" dx="1.0" dy="1.9">PCA</tspan></text><text x="554.2" y="468.7" font-size="22.4px">Group 2<tspan font-size="13.8px" dx="1.0" dy="2.1">PCA</tspan></text></g></svg></body></html>
